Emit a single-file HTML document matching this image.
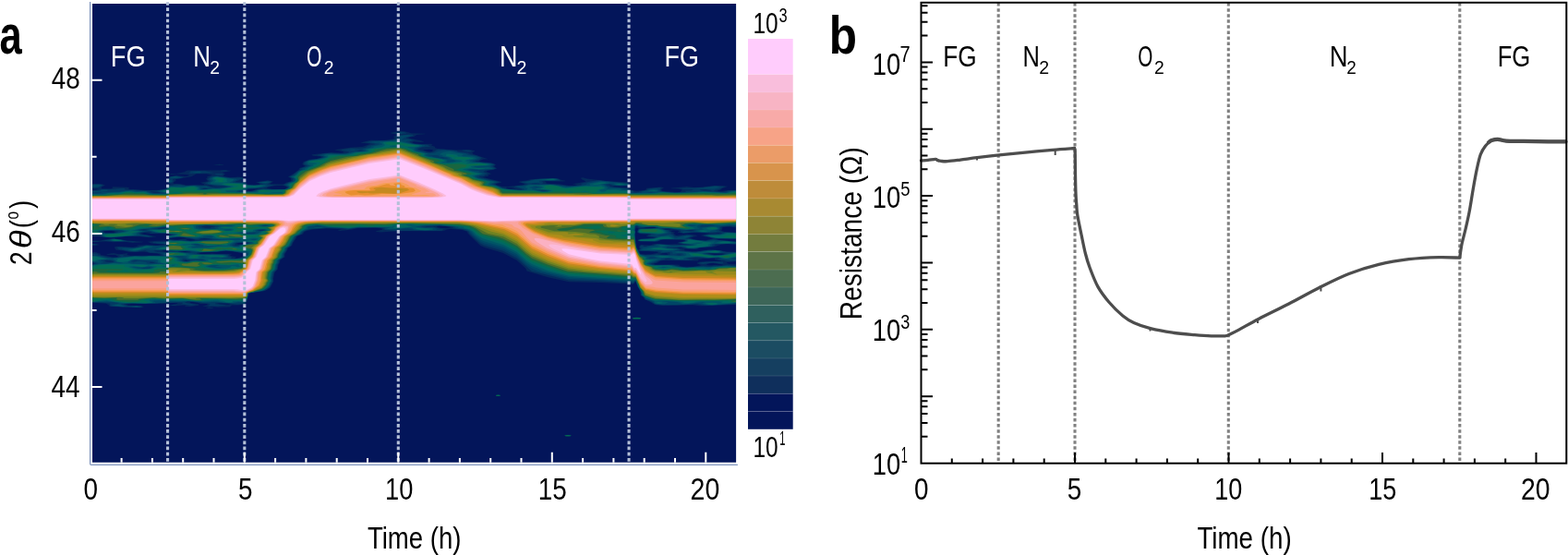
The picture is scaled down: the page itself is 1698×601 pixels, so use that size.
<!DOCTYPE html>
<html><head><meta charset="utf-8"><title>figure</title>
<style>html,body{margin:0;padding:0;background:#fff;}body{width:1698px;height:601px;overflow:hidden;}svg{display:block;}</style>
</head><body>
<svg width="1698" height="601" viewBox="0 0 1698 601" font-family="'Liberation Sans', Arial, sans-serif">
<rect x="0" y="0" width="1698" height="601" fill="#fff"/>
<rect x="100" y="4" width="697.1" height="496.75" fill="#03155A"/>
<g shape-rendering="auto">
<path fill="#05295C" fill-rule="evenodd" d="M152.2 333.3L119.8 331.9 118.2 331.6 117.6 330.2 114.9 328.8 100.2 327.7 100.2 272.7 105.1 273.2 105.1 273.8 108.8 274.8 109.0 275.2 108.6 275.8 109.6 276.2 115.2 276.9 122.2 278.6 126.8 278.4 128.0 277.8 124.8 276.0 116.8 276.1 115.0 275.2 122.8 274.0 128.8 275.3 137.8 274.2 138.9 274.8 137.1 275.8 141.2 276.7 172.8 276.7 174.3 276.2 170.2 274.4 162.8 273.9 156.2 272.7 139.8 273.1 133.8 271.4 125.7 270.8 123.9 268.2 124.6 267.2 127.3 266.8 144.2 267.8 150.5 266.2 147.9 265.2 148.2 265.2 152.2 265.6 158.8 264.9 168.2 265.8 176.7 265.2 178.4 264.8 163.8 263.5 159.7 261.8 169.2 260.7 181.8 260.4 182.2 259.0 192.2 259.7 197.8 258.6 203.3 258.2 200.0 257.2 194.8 256.7 182.2 258.1 181.4 256.8 182.2 255.1 185.3 254.2 184.9 253.8 182.2 253.5 181.8 252.9 172.2 252.6 163.8 253.1 156.8 252.1 153.0 252.8 155.2 253.7 170.0 256.2 161.8 257.3 151.8 256.3 136.2 256.0 120.8 257.6 106.2 255.9 100.2 255.8 100.2 205.7 103.8 205.5 106.1 204.8 100.2 204.4 100.2 199.3 110.2 199.2 113.3 200.2 113.8 200.8 110.4 202.2 109.8 203.8 110.2 204.2 120.3 204.2 122.1 203.8 121.3 202.8 122.8 202.3 138.2 202.8 140.2 203.8 139.0 204.8 139.8 204.9 159.2 206.1 172.1 205.8 179.8 204.2 181.4 202.8 181.9 201.2 184.3 199.8 184.5 199.2 181.8 198.2 181.4 196.2 182.7 192.2 183.9 191.2 190.2 190.1 200.8 190.9 204.5 190.2 205.0 189.8 202.2 189.0 191.2 188.4 185.2 189.1 184.1 188.8 184.8 188.0 190.8 188.0 199.6 186.2 201.9 184.8 203.8 184.5 242.2 184.3 250.1 184.8 249.5 185.2 240.5 186.8 242.9 187.8 243.8 188.8 241.7 190.2 242.0 190.8 249.2 192.3 257.2 191.6 262.9 191.8 264.6 193.2 261.8 196.2 266.7 197.8 268.2 199.8 274.8 200.3 280.3 199.8 281.9 199.2 276.9 197.2 289.8 195.3 295.5 196.2 295.7 196.8 292.8 198.8 292.9 199.2 306.2 199.6 308.2 199.0 309.5 197.8 315.1 196.2 315.5 195.8 314.9 194.2 315.2 193.2 312.5 191.8 312.0 191.2 312.2 190.9 315.1 189.8 320.3 186.2 323.5 183.8 324.2 182.0 329.8 180.2 330.2 179.8 327.2 177.8 328.5 175.2 334.8 172.7 342.8 171.9 348.6 170.2 346.8 169.5 339.1 168.8 337.1 167.8 338.2 167.2 358.8 164.9 368.8 165.5 372.4 165.2 371.1 164.2 362.0 162.2 379.0 159.8 392.8 158.7 401.2 155.8 391.3 154.8 391.0 154.2 401.2 151.7 415.8 152.0 425.8 150.4 427.1 149.2 425.9 148.2 426.2 147.8 430.7 145.8 424.5 144.8 423.1 144.2 422.9 143.8 433.2 141.7 438.3 142.2 445.8 144.3 460.9 144.8 460.2 145.3 451.2 146.0 448.8 147.8 442.9 148.8 442.4 149.2 443.4 149.8 456.8 152.5 459.6 153.8 455.2 154.0 448.8 153.4 446.8 153.8 446.8 154.8 448.1 155.2 455.8 156.0 467.2 155.8 468.7 156.2 466.8 157.2 470.8 158.8 471.4 160.2 474.2 161.0 492.8 162.4 508.2 162.1 514.2 163.2 514.2 163.8 511.3 165.2 512.3 166.8 528.6 172.2 523.2 172.5 518.5 174.8 532.8 176.6 537.2 178.2 535.0 180.2 538.0 182.2 537.8 182.8 534.2 183.9 528.2 184.8 526.6 185.8 532.2 188.2 528.2 189.8 529.0 190.2 528.9 190.8 522.5 191.8 542.8 196.8 543.2 197.2 542.4 197.8 537.8 198.9 536.9 199.2 537.0 199.8 539.8 201.0 544.2 202.0 549.8 202.0 566.2 200.3 568.4 199.2 561.4 197.2 563.3 196.2 569.8 195.6 575.2 194.0 600.2 192.9 604.2 193.2 608.2 194.9 612.5 195.8 611.9 196.2 609.2 196.4 589.6 196.2 591.5 197.2 591.4 198.2 592.9 198.8 605.2 199.3 616.2 201.1 621.8 201.0 625.1 200.2 619.6 199.2 634.1 196.8 634.0 196.2 629.9 194.2 628.7 192.8 631.2 192.3 635.8 193.4 659.2 196.2 679.8 197.3 681.8 199.2 682.2 200.2 680.2 201.7 666.2 201.6 664.4 201.8 664.4 202.2 680.2 203.3 682.0 204.2 683.3 205.8 689.8 206.7 698.1 205.8 699.5 205.2 700.2 203.7 715.8 202.6 719.0 203.2 716.3 205.2 716.4 206.2 717.8 207.0 733.2 208.1 736.8 207.8 738.8 205.8 734.8 204.6 727.4 204.2 726.0 203.8 743.8 202.1 751.2 202.9 758.2 202.8 774.8 200.9 788.6 201.8 781.7 204.2 780.2 205.7 776.7 206.8 777.8 207.0 780.8 207.3 787.8 206.1 796.8 205.8 796.8 246.5 789.2 245.4 783.7 245.8 782.1 246.8 782.4 247.8 781.2 249.8 784.8 251.0 796.8 251.6 796.8 258.6 775.5 258.8 775.8 259.2 778.8 259.9 796.8 261.5 796.8 264.6 787.8 264.3 781.4 264.8 772.8 267.4 758.6 268.2 756.1 268.8 755.5 269.8 753.8 270.0 741.8 269.6 736.2 267.9 733.2 268.2 741.2 269.6 741.6 270.2 740.6 270.8 741.9 271.2 749.2 272.3 754.8 272.2 768.2 270.3 779.2 270.9 787.2 272.6 796.8 272.7 796.8 283.2 786.8 284.2 787.9 285.2 790.4 285.8 796.8 285.8 796.8 330.0 763.8 331.3 757.8 331.2 749.8 330.3 718.8 330.9 710.2 330.3 708.2 329.6 703.8 326.8 697.9 324.2 697.1 322.2 693.7 319.8 693.2 315.2 690.3 310.2 688.2 304.7 686.2 307.8 649.8 305.9 616.2 305.3 593.2 300.3 571.3 293.8 570.2 293.2 569.9 291.8 568.8 290.2 559.8 282.1 544.8 274.1 524.8 268.1 520.2 266.1 506.6 252.8 505.8 250.8 500.2 248.9 487.2 247.9 483.8 248.4 481.5 249.8 478.8 250.3 431.2 250.3 412.2 251.6 407.8 250.9 406.7 250.2 413.8 248.8 413.6 247.8 412.2 247.2 407.2 247.0 387.1 247.2 381.8 248.4 368.8 249.9 366.1 249.8 366.2 249.2 370.0 248.2 353.2 247.5 337.2 248.7 330.0 250.8 327.6 253.8 322.9 255.2 321.5 256.2 321.0 257.8 317.4 262.8 315.9 266.2 311.9 268.8 311.3 270.8 308.4 275.2 308.5 278.2 303.4 281.8 303.1 284.2 301.5 286.8 300.8 291.8 297.6 294.8 296.1 301.2 296.3 304.8 292.9 311.2 288.6 314.2 285.7 315.2 269.2 317.6 267.8 325.1 266.8 327.2 264.8 329.5 258.2 330.4 251.2 330.4 248.8 332.4 236.2 332.7 231.2 332.3 226.2 332.5 221.2 331.8 219.2 331.2 223.8 330.5 225.2 329.8 223.2 329.1 216.8 328.9 213.8 327.8 207.2 327.1 205.6 327.2 207.0 328.2 215.1 329.2 215.5 330.8 205.8 331.9 199.6 331.8 201.5 330.8 199.8 330.6 190.8 331.2 182.2 331.1 181.8 331.7 180.1 331.2 181.8 330.2 182.2 330.7 192.7 328.8 191.3 328.2 186.2 328.1 182.2 328.2 180.2 328.8 168.8 329.1 142.8 328.9 136.1 329.8 139.2 330.7 152.8 331.0 156.1 332.2 152.2 333.3ZM408.2 144.3L404.1 144.2 408.2 144.3ZM467.1 164.2L468.6 163.2 468.7 162.2 464.8 161.7 458.6 162.2 458.8 162.8 464.2 164.3 467.1 164.2ZM242.2 178.8L237.2 179.0 230.5 178.2 237.8 177.8 241.9 178.2 242.2 178.8ZM262.8 183.3L260.8 183.2 262.2 182.7 262.8 183.3ZM221.0 200.2L220.6 199.2 216.8 197.8 225.2 196.2 223.7 194.8 223.1 193.2 224.9 192.2 225.0 191.8 223.5 191.2 229.8 189.8 223.8 188.2 212.8 188.3 207.2 191.3 190.5 194.2 190.0 194.8 190.7 195.8 188.1 197.2 187.6 198.2 187.8 198.8 195.8 199.3 202.2 200.5 221.0 200.2ZM214.8 192.3L213.3 192.2 215.1 192.2 214.8 192.3ZM261.6 196.2L260.1 196.2 261.6 196.2ZM230.8 201.2L228.8 200.7 224.3 200.8 229.8 201.6 230.8 201.2ZM307.9 204.8L310.4 203.8 310.6 202.8 309.1 201.8 305.8 201.0 297.7 201.2 288.7 203.2 290.2 204.0 294.8 204.7 307.9 204.8ZM243.4 202.2L240.7 202.2 243.4 202.2ZM558.7 204.2L554.2 203.2 548.8 202.8 548.0 203.2 550.1 204.2 552.2 204.5 558.7 204.2ZM271.0 206.8L279.6 204.8 270.6 204.8 268.8 205.2 266.7 206.8 271.0 206.8ZM169.0 208.2L166.8 208.2 169.0 208.2ZM484.7 246.8L488.3 246.2 484.8 245.2 479.2 244.8 474.2 245.0 473.2 245.2 473.1 245.8 477.2 246.8 484.7 246.8ZM708.7 247.2L710.2 246.8 708.8 246.1 704.2 245.9 697.6 246.8 697.4 247.2 708.7 247.2ZM691.9 270.2L692.9 269.2 692.1 267.8 692.5 266.2 693.8 265.0 704.2 265.4 707.5 264.2 712.2 263.9 722.8 264.7 731.2 264.3 739.8 264.8 740.3 264.8 732.9 263.2 735.0 262.2 741.2 261.3 741.8 260.8 738.2 259.6 721.2 259.2 715.8 259.8 714.2 261.1 710.8 261.6 691.8 261.3 690.7 260.8 690.9 259.8 693.2 258.7 709.1 257.2 708.6 256.8 701.8 256.4 699.4 255.8 702.8 253.8 694.2 253.6 691.2 252.4 689.7 251.2 691.5 247.2 688.8 246.5 688.0 248.8 688.3 251.2 687.8 253.8 688.5 264.8 690.2 269.3 691.2 270.3 691.9 270.2ZM726.2 248.2L723.8 247.6 718.6 247.8 718.6 248.2 721.2 248.6 726.2 248.2ZM283.8 249.2L282.9 249.2 283.8 249.2ZM763.7 260.2L772.2 258.2 759.0 255.2 759.3 254.8 768.5 252.8 753.2 251.9 740.2 252.8 733.6 251.8 735.3 250.2 733.8 249.8 729.2 249.5 726.6 250.2 727.0 250.8 731.4 251.8 729.2 252.8 732.2 255.0 744.2 253.8 751.2 254.2 755.8 255.2 746.8 257.8 754.6 259.8 763.7 260.2ZM121.4 252.2L125.1 251.2 123.2 250.4 119.8 250.0 113.8 250.2 112.3 250.8 113.1 251.8 114.8 252.2 121.4 252.2ZM780.0 252.8L777.8 252.2 774.7 252.8 780.0 252.8ZM694.2 256.3L693.7 256.2 694.2 256.3ZM149.2 262.8L143.2 263.0 134.8 261.7 122.8 262.2 114.8 261.5 100.2 262.2 100.2 260.6 107.8 260.6 122.2 258.1 138.2 260.6 155.1 261.8 153.8 262.5 149.2 262.8ZM224.5 258.8L221.2 258.4 219.3 258.8 224.5 258.8ZM210.8 260.2L210.8 259.8 204.2 258.8 202.8 258.9 201.6 259.8 205.2 260.4 210.8 260.2ZM263.6 264.2L268.5 263.2 262.4 262.8 256.3 263.8 258.2 264.5 263.6 264.2ZM102.8 265.8L100.2 265.8 100.2 263.8 105.4 264.2 108.1 265.2 102.8 265.8ZM181.9 272.8L181.8 270.8 175.4 271.8 180.2 272.9 181.8 273.1 181.9 272.8ZM256.2 279.8L262.6 277.8 263.7 276.8 263.7 275.8 264.3 274.8 252.8 272.4 245.2 271.7 234.8 272.8 217.8 273.6 215.8 274.2 216.1 274.8 219.2 275.1 229.8 274.6 238.2 275.3 249.9 275.2 251.1 275.8 248.5 276.8 255.6 278.2 255.7 278.8 254.3 279.2 254.3 279.8 256.2 279.8ZM204.2 272.8L199.8 271.9 194.9 272.2 200.2 273.1 204.2 272.8ZM704.9 275.2L712.2 273.8 712.6 273.2 710.8 272.7 699.2 271.9 692.8 271.9 692.1 272.2 692.8 274.2 694.2 275.2 698.8 275.6 704.9 275.2ZM722.3 275.8L723.5 275.2 721.8 274.3 717.2 274.5 715.3 275.2 722.3 275.8ZM781.4 275.8L783.2 275.2 783.2 274.8 766.7 274.8 774.2 276.0 781.4 275.8ZM750.9 288.8L759.2 287.2 754.5 285.2 755.4 284.2 757.8 283.5 779.2 282.8 781.4 282.2 774.7 281.2 773.9 280.8 774.2 280.2 773.8 279.8 761.3 280.2 755.7 281.2 756.8 282.2 755.2 282.4 718.2 282.0 714.0 282.8 713.0 284.2 707.4 285.8 710.2 286.4 731.8 286.4 736.5 286.8 735.3 287.8 739.8 288.8 750.9 288.8ZM203.9 282.2L201.2 281.7 199.3 282.2 201.8 282.6 203.9 282.2ZM120.7 283.2L117.4 283.2 120.7 283.2ZM782.2 287.2L783.1 286.8 772.2 285.0 768.2 285.2 765.1 286.2 765.4 286.8 767.2 287.2 782.2 287.2ZM250.0 329.8L245.9 328.8 236.1 328.8 237.2 329.2 250.0 329.8ZM229.2 334.3L222.2 333.8 226.2 332.8 230.8 333.2 231.6 333.8 229.2 334.3Z"/>
<path fill="#033963" fill-rule="evenodd" d="M439.2 144.8L432.8 145.2 427.0 144.2 428.8 143.5 434.8 142.8 438.3 143.2 440.6 144.2 439.2 144.8ZM153.2 332.8L147.8 333.0 121.1 331.8 119.4 331.2 119.0 329.8 119.4 328.8 118.2 328.4 108.8 327.5 100.2 327.5 100.2 286.4 103.2 285.8 103.3 285.2 100.2 284.6 100.2 274.3 105.8 274.8 106.6 275.2 105.4 276.2 112.1 277.2 115.8 278.4 121.2 279.0 127.7 278.8 131.9 277.8 128.9 276.8 130.2 276.1 133.1 276.2 134.2 276.8 132.5 277.2 135.2 277.8 147.2 276.9 176.8 276.8 177.2 276.8 176.8 276.2 172.2 274.0 161.8 273.4 157.3 271.2 149.2 272.6 142.2 272.6 129.4 270.2 126.7 268.8 127.5 267.8 129.2 267.4 146.0 268.2 158.2 265.6 169.8 266.0 181.8 265.3 181.8 264.6 179.3 264.2 166.0 263.2 165.3 262.2 167.2 261.7 181.8 261.8 182.2 259.4 206.8 260.9 230.0 259.2 225.8 258.2 219.8 257.9 216.8 258.2 216.2 259.4 212.8 259.5 207.8 258.8 204.8 257.7 194.8 256.4 182.2 257.8 181.9 256.8 182.2 255.4 187.6 253.8 182.2 253.3 181.8 252.7 164.0 252.8 161.9 252.2 165.2 251.2 162.2 250.8 153.2 251.8 151.0 252.8 153.2 253.9 159.8 254.7 165.8 256.2 161.2 256.7 150.8 255.8 136.8 255.9 119.8 257.3 112.8 256.8 106.8 255.4 100.2 255.4 100.2 206.4 105.2 206.2 109.8 204.9 119.2 205.0 132.8 203.8 134.8 204.0 135.3 204.2 135.0 205.2 137.2 205.6 145.8 205.4 161.2 206.6 172.2 206.1 179.8 204.8 183.2 201.0 191.2 199.5 195.7 199.8 201.2 200.9 211.2 200.6 224.2 201.3 233.2 203.5 246.6 202.2 243.8 201.5 235.8 201.4 224.8 199.8 221.5 198.2 227.1 196.2 225.3 194.8 225.0 193.8 228.3 191.2 235.2 190.4 248.8 192.6 262.2 192.3 263.3 193.2 262.8 193.7 260.0 194.2 258.8 195.2 255.8 196.2 254.9 197.2 264.8 197.6 266.5 198.2 266.8 199.2 268.2 200.1 276.2 200.5 285.6 199.2 281.0 198.2 278.9 197.2 290.2 195.7 293.2 196.2 293.9 196.8 292.8 198.1 289.1 199.2 293.2 200.1 301.1 200.2 296.2 200.5 284.8 203.7 268.8 204.5 266.2 206.0 261.8 207.2 262.2 207.3 272.0 207.2 277.2 205.6 285.8 204.2 294.8 205.0 308.2 204.9 311.4 203.8 311.9 202.8 310.7 201.8 306.4 200.2 317.1 195.8 316.7 193.2 313.0 191.2 316.7 189.8 322.8 184.9 325.0 183.8 325.3 182.2 332.6 179.8 328.7 177.8 329.8 175.2 334.8 173.2 343.8 172.1 350.3 170.2 349.8 169.6 343.2 168.2 343.7 167.8 350.3 166.2 357.8 165.7 368.2 166.3 375.4 165.8 377.1 165.2 377.8 164.2 369.9 162.8 370.1 162.2 380.8 160.3 388.8 160.8 393.7 160.2 395.9 159.8 398.8 157.8 406.1 156.2 405.8 155.7 395.9 154.2 396.6 153.8 403.2 152.4 421.8 152.1 428.0 150.8 429.2 149.2 428.3 148.2 428.6 147.8 431.2 146.6 444.8 145.5 447.0 145.8 447.6 147.2 440.6 148.8 439.8 149.8 449.5 151.8 443.8 153.2 443.7 153.8 445.2 154.8 449.8 155.9 462.6 156.8 466.3 158.8 457.2 159.6 452.8 161.2 452.8 161.8 455.8 163.1 459.8 163.9 462.8 165.2 465.2 165.3 469.4 164.8 472.2 162.4 474.2 161.7 479.8 161.8 494.8 163.1 495.4 163.2 495.2 163.8 495.8 164.2 506.2 165.6 509.8 167.3 515.8 168.5 521.9 170.8 518.8 173.4 514.6 174.8 515.5 175.2 531.2 176.6 535.3 177.8 535.8 178.5 533.5 179.8 533.5 180.2 537.0 182.2 536.6 182.8 533.2 183.7 525.1 184.8 523.5 186.2 528.8 188.2 524.3 189.8 525.3 190.2 524.2 190.7 519.8 191.1 518.8 191.8 540.0 196.8 540.6 197.2 540.1 197.8 535.9 198.8 535.1 199.2 535.4 199.8 542.6 202.2 544.2 203.4 550.2 204.7 562.8 205.6 565.5 205.2 564.8 204.6 555.8 202.2 559.2 201.3 566.2 200.8 571.8 199.2 565.2 197.8 564.2 197.2 564.8 196.7 571.8 195.9 579.2 194.1 600.2 193.1 604.5 193.8 606.0 194.8 606.5 195.8 589.2 195.7 586.4 196.2 588.4 197.2 587.5 198.2 587.3 198.8 587.8 198.8 601.8 199.7 617.2 201.6 629.8 200.2 630.4 199.8 628.8 199.2 629.5 198.8 640.0 196.2 647.8 195.2 676.2 197.9 680.2 198.5 681.5 200.2 680.2 201.1 673.2 201.3 663.8 200.9 660.2 199.6 656.6 199.8 656.5 200.2 660.2 201.1 660.7 202.2 663.3 202.8 680.2 204.0 682.0 205.8 685.6 206.8 687.0 208.2 688.2 208.4 691.1 208.2 692.8 207.2 700.3 205.8 702.2 204.2 713.8 203.1 715.8 203.2 714.8 205.8 715.5 206.8 717.2 207.4 730.8 208.4 741.8 207.9 743.3 207.8 741.1 206.8 748.2 206.2 750.4 205.8 750.6 205.2 740.2 205.0 735.9 203.8 760.2 203.0 774.2 201.2 785.4 201.8 778.0 205.2 772.3 206.2 775.1 207.2 782.8 207.9 789.5 206.2 796.8 206.1 796.8 245.8 790.8 244.9 781.8 245.5 780.3 246.2 780.8 247.8 778.6 249.8 782.8 251.2 796.8 251.9 796.8 258.5 774.2 258.2 761.5 255.2 761.9 254.8 766.2 254.0 778.8 253.4 782.0 252.8 781.8 252.2 780.2 251.8 762.8 252.1 751.8 251.5 740.2 252.4 736.7 251.8 736.4 251.2 737.4 250.2 736.8 249.8 727.6 247.8 721.8 247.3 716.9 247.8 718.8 248.6 724.7 249.2 724.9 250.8 727.9 251.8 726.4 252.8 726.9 253.2 728.8 253.8 729.5 254.2 729.6 255.2 731.2 255.7 734.2 255.9 744.6 254.2 749.7 254.8 750.8 255.8 744.6 257.8 753.3 259.8 764.8 260.7 771.8 259.3 796.8 261.8 796.8 264.4 787.8 264.1 775.2 264.6 774.4 264.8 774.3 265.8 771.2 267.0 757.2 268.2 752.2 269.6 743.2 269.0 736.8 267.4 724.4 268.2 733.8 269.1 738.2 270.2 734.8 271.2 749.8 272.8 754.8 272.6 765.8 271.0 772.8 270.8 779.7 271.2 786.8 273.0 796.8 273.1 796.8 282.7 786.2 282.8 783.8 281.8 777.8 281.3 776.1 280.8 780.0 279.8 778.8 279.1 764.8 279.6 753.2 278.7 745.8 279.2 744.6 279.8 752.0 280.8 748.5 281.8 719.2 281.4 712.8 282.6 710.4 284.2 705.3 285.2 704.8 285.8 709.8 286.9 729.2 286.8 736.2 288.7 744.2 289.4 761.2 288.1 767.8 288.4 773.8 287.6 781.2 287.8 787.2 286.8 796.8 287.5 796.8 329.6 767.2 330.8 759.8 330.5 755.2 329.4 732.2 330.4 717.2 330.4 709.9 329.8 705.4 326.8 698.7 324.2 697.7 322.2 694.2 319.8 693.5 315.2 690.6 310.2 688.2 304.0 686.2 306.7 649.8 304.6 616.2 303.6 575.8 293.8 559.8 279.8 544.8 271.8 524.2 265.7 520.2 263.8 508.2 252.8 507.7 251.2 506.8 250.5 500.8 248.4 489.5 247.2 490.7 246.2 490.3 245.8 476.2 244.4 468.8 245.1 462.2 245.0 460.6 245.8 468.8 245.5 476.8 247.5 482.9 247.8 479.9 248.2 478.9 249.8 476.8 249.9 425.8 249.9 416.8 249.0 415.5 248.2 415.1 247.2 413.8 246.9 406.2 246.5 386.7 246.8 375.8 248.4 369.2 247.3 353.8 247.1 339.2 248.1 332.8 249.1 328.7 250.8 326.2 253.8 321.0 255.8 316.6 262.8 315.2 265.9 311.0 268.8 310.4 270.8 307.5 275.2 307.6 278.2 302.5 281.8 302.2 284.2 300.6 286.8 299.9 291.8 296.5 295.2 295.2 301.2 295.6 304.8 291.9 311.2 288.2 313.9 285.8 314.9 269.2 317.5 267.8 324.5 266.3 327.2 264.8 328.9 256.8 329.8 247.8 328.5 236.2 328.0 233.2 328.6 232.8 329.2 244.7 330.2 243.7 330.8 235.2 331.4 227.2 331.6 225.0 331.2 227.6 329.8 226.2 328.8 205.2 326.4 202.5 326.8 200.0 327.8 211.9 329.8 211.9 330.2 207.8 330.7 196.8 329.5 195.9 329.2 198.2 328.2 197.3 327.8 192.2 327.5 156.2 329.0 141.8 328.6 135.8 329.1 133.7 329.8 138.8 331.1 151.9 331.2 154.4 332.2 153.2 332.8ZM392.2 163.2L392.2 162.8 389.8 162.4 386.4 163.2 389.2 163.6 392.2 163.2ZM509.2 164.3L506.8 164.4 500.4 163.2 500.5 162.8 505.2 162.5 510.7 163.2 510.7 163.8 509.2 164.3ZM481.0 171.2L480.0 170.8 476.9 170.8 481.0 171.2ZM238.2 178.3L235.1 178.2 238.2 178.3ZM246.2 185.3L241.8 185.6 238.4 185.2 239.3 184.8 243.2 184.6 246.6 184.8 246.2 185.3ZM216.2 187.8L206.8 188.1 203.5 187.2 206.4 186.2 206.5 185.8 205.2 185.2 214.8 184.9 222.8 185.2 232.6 187.2 216.2 187.8ZM239.2 189.8L235.2 189.6 232.5 188.8 233.8 188.1 236.8 187.9 240.2 188.1 241.8 188.8 241.6 189.2 239.2 189.8ZM185.2 198.3L182.8 198.2 181.9 196.2 183.4 193.8 183.4 192.2 184.7 191.2 191.2 190.5 199.3 191.8 196.2 193.0 187.7 193.8 186.9 194.2 188.2 196.2 185.2 198.3ZM635.2 194.8L633.2 194.2 637.3 194.2 635.2 194.8ZM584.0 199.2L583.3 198.8 579.8 198.6 576.4 198.8 575.4 199.2 584.0 199.2ZM107.2 203.3L100.2 203.6 100.2 199.6 108.2 199.5 111.3 200.2 111.5 200.8 107.2 203.3ZM223.8 204.8L225.6 204.2 221.8 203.6 219.1 204.2 220.2 204.8 223.8 204.8ZM769.2 206.8L771.7 206.2 763.8 205.1 758.8 205.2 758.1 205.8 761.2 206.6 769.2 206.8ZM173.5 208.8L173.0 208.2 167.8 207.4 164.2 207.2 162.6 207.8 167.2 209.1 173.5 208.8ZM228.4 247.2L228.1 246.2 232.5 245.2 232.9 244.8 223.8 244.1 218.4 245.2 218.5 245.8 222.8 247.0 228.4 247.2ZM769.5 244.2L763.2 244.2 769.5 244.2ZM725.5 275.8L725.3 274.2 725.7 273.8 724.8 273.3 716.2 273.9 712.2 272.2 693.2 271.5 692.5 270.8 694.0 269.2 692.8 267.8 693.9 265.8 694.8 265.4 697.1 265.8 696.4 266.8 698.8 266.9 701.8 266.2 707.5 265.8 708.5 265.2 708.5 264.8 711.2 264.2 728.8 265.3 747.8 265.2 735.2 263.2 734.9 262.8 736.3 262.2 741.8 261.4 742.6 260.8 741.2 259.8 739.2 259.4 718.8 259.2 714.7 259.8 713.7 260.8 712.2 261.2 708.8 261.5 691.8 261.1 691.0 260.8 691.2 259.8 693.2 259.0 706.8 258.1 710.5 257.2 710.9 256.8 701.7 255.8 701.9 255.2 705.1 254.2 705.1 253.8 703.8 253.3 694.2 252.9 691.2 252.1 690.2 251.2 691.5 248.2 693.8 247.5 706.2 247.6 711.5 246.8 709.8 245.9 705.8 245.6 692.8 246.7 691.1 246.2 690.1 244.8 688.5 244.8 687.7 248.8 688.1 251.2 687.6 254.2 688.5 265.2 689.2 267.9 693.2 275.2 698.8 276.0 703.8 275.9 708.2 275.7 711.8 274.7 712.6 274.8 711.5 275.2 715.8 275.9 721.8 276.2 725.5 275.8ZM175.7 247.8L180.1 247.2 180.5 246.8 178.2 246.3 170.6 247.2 171.2 247.8 175.7 247.8ZM158.1 249.2L158.5 248.8 156.2 248.4 151.7 248.8 150.8 249.2 155.2 249.6 158.1 249.2ZM284.0 249.8L286.9 249.2 283.8 248.7 279.5 249.2 280.8 249.8 284.0 249.8ZM751.1 249.8L751.4 249.2 748.8 249.1 742.0 249.8 747.2 250.2 751.1 249.8ZM124.1 252.2L128.3 250.8 120.2 249.6 110.7 250.2 111.8 251.8 114.2 252.5 124.1 252.2ZM415.8 250.3L410.4 250.2 414.8 249.7 416.2 250.2 415.8 250.3ZM271.8 252.8L270.0 252.8 271.8 252.8ZM147.2 261.8L144.2 262.2 138.8 261.4 122.8 261.6 110.3 260.8 123.2 258.5 132.8 259.7 137.8 261.0 147.2 261.8ZM105.2 261.8L100.2 262.0 100.2 260.9 108.9 261.2 105.2 261.8ZM256.8 265.8L270.3 263.2 268.2 262.6 262.2 262.5 257.2 262.9 254.5 263.8 254.3 265.8 256.8 265.8ZM105.2 265.3L100.2 265.6 100.2 264.0 105.6 264.8 105.2 265.3ZM181.8 273.2L182.2 271.8 181.8 270.6 174.2 271.3 167.8 271.2 166.1 271.8 170.8 272.9 181.8 273.2ZM207.1 273.2L205.4 272.2 201.8 271.7 192.9 272.2 193.4 272.8 201.8 273.5 207.1 273.2ZM255.9 280.2L259.5 279.8 263.2 278.2 265.8 276.2 266.2 274.8 252.8 272.1 244.8 271.5 234.8 272.6 216.8 273.3 213.8 273.8 213.3 274.2 213.3 274.8 214.8 275.1 218.8 275.5 230.2 275.0 247.2 275.5 248.6 275.8 246.9 276.8 247.6 277.2 251.3 278.2 249.8 279.8 255.9 280.2ZM779.4 276.2L783.5 275.8 786.0 274.8 783.2 274.2 768.2 274.1 763.9 274.8 772.8 276.3 779.4 276.2ZM738.1 276.2L737.8 275.7 735.2 275.4 733.0 275.8 732.7 276.2 738.1 276.2ZM726.2 280.8L726.5 280.2 724.2 279.7 719.3 280.2 721.2 281.2 726.2 280.8ZM218.0 281.2L214.2 281.2 218.0 281.2ZM148.3 282.2L147.9 281.8 146.2 281.7 144.1 282.2 148.3 282.2ZM204.6 282.8L205.9 282.2 205.2 281.7 201.2 281.3 198.2 281.6 197.4 282.2 200.8 283.0 204.6 282.8ZM122.7 283.8L123.0 283.2 122.3 282.8 120.2 282.2 115.8 281.8 113.1 282.2 114.1 283.2 116.2 283.9 122.7 283.8ZM781.8 285.8L772.2 284.5 761.2 286.1 756.5 285.2 756.8 284.7 759.2 284.0 772.8 283.1 782.8 283.6 783.6 285.2 781.8 285.8ZM167.3 284.8L167.1 284.2 164.8 283.7 162.2 283.7 161.8 284.2 163.2 285.0 167.3 284.8ZM159.3 290.2L157.7 290.2 159.3 290.2ZM189.8 330.8L185.1 330.8 187.2 330.1 191.9 330.2 189.8 330.8Z"/>
<path fill="#004666" fill-rule="evenodd" d="M435.8 144.3L432.8 144.6 430.3 144.2 433.2 143.6 435.3 143.8 435.8 144.3ZM137.8 331.8L132.8 332.2 121.6 331.2 121.1 330.2 121.8 329.9 128.9 328.8 126.3 327.8 122.2 327.2 100.2 327.3 100.2 286.7 106.9 285.2 100.2 283.6 100.2 276.9 107.8 277.2 112.8 278.8 120.8 279.5 146.8 277.3 176.8 277.2 180.1 276.8 176.3 275.2 176.8 274.4 181.8 274.0 182.2 272.5 208.3 274.2 211.4 275.2 218.2 275.7 230.2 275.4 244.2 275.8 247.7 278.2 245.8 279.0 239.7 279.2 239.9 279.8 254.2 280.5 261.4 279.8 267.4 276.2 267.9 274.8 263.8 273.5 244.8 271.2 234.8 272.4 211.8 273.1 202.8 271.6 189.2 272.1 182.2 271.5 181.8 270.3 163.2 270.8 159.8 269.9 152.8 270.8 148.2 272.2 144.2 272.3 133.9 270.2 131.2 268.8 136.2 268.4 145.8 268.7 158.8 266.0 176.2 266.8 181.8 265.9 181.8 264.1 169.7 263.2 168.4 262.8 181.8 262.4 182.2 259.6 188.8 260.5 196.8 260.5 206.8 261.2 239.3 259.8 221.8 257.6 215.2 257.7 213.6 258.8 211.2 258.8 206.2 257.5 195.2 256.2 182.2 257.6 182.2 255.7 190.0 253.8 182.2 253.1 181.8 252.4 167.8 251.9 167.3 251.2 165.5 250.8 159.8 250.1 159.4 249.8 160.0 249.2 162.2 248.2 160.2 247.9 153.2 248.2 148.8 249.2 158.3 250.2 156.8 250.9 150.9 251.8 149.3 252.8 152.2 254.6 158.2 254.9 162.1 255.8 160.8 256.2 150.8 255.0 118.2 257.1 111.4 256.2 109.4 255.2 108.8 254.2 100.2 254.2 100.2 209.4 108.2 209.1 111.2 208.0 129.8 207.5 136.8 206.3 144.2 205.8 149.2 206.7 158.8 206.9 162.8 208.7 166.8 209.6 176.2 209.5 178.4 209.2 169.2 206.8 179.8 205.2 183.8 201.6 190.8 201.3 193.8 200.4 199.8 201.4 210.2 200.9 217.2 201.7 223.2 201.6 227.3 202.8 225.8 203.3 218.8 203.2 217.6 203.8 217.6 204.8 220.2 205.2 229.2 204.0 237.2 204.0 248.6 202.2 243.8 201.2 227.6 199.8 224.8 198.8 225.3 197.8 228.9 196.2 229.0 195.8 227.0 194.2 227.1 193.2 230.8 191.3 233.8 190.9 256.3 193.8 256.5 194.8 252.0 197.2 252.7 197.8 263.8 197.9 265.1 198.2 266.5 199.8 268.2 200.5 275.2 200.8 285.8 200.0 289.2 200.5 290.3 201.2 282.8 203.1 268.2 204.0 265.2 205.8 259.2 206.8 258.6 207.2 259.1 207.8 273.2 207.6 278.3 205.8 285.2 204.9 295.2 205.3 308.8 205.0 311.8 204.1 312.7 202.8 312.2 201.8 308.8 200.2 312.8 198.0 317.8 196.4 318.7 195.2 318.2 193.2 314.3 191.2 318.2 189.9 323.3 185.2 327.2 183.8 327.4 182.2 334.6 179.8 334.7 179.2 330.5 177.8 330.8 175.8 331.9 174.8 335.2 173.5 344.8 172.3 351.9 170.2 351.8 169.7 347.4 168.2 351.8 166.6 357.8 166.2 372.2 166.7 378.2 165.8 383.2 164.3 393.4 163.8 394.7 163.2 392.9 161.8 393.6 161.2 401.0 159.8 402.1 158.2 409.0 156.8 410.6 156.2 410.8 155.8 401.9 154.2 401.9 153.8 405.2 153.1 421.8 152.6 430.4 151.8 431.3 151.2 430.7 150.2 431.3 149.2 431.0 148.2 432.3 147.2 439.8 146.3 443.8 146.6 445.0 147.2 438.0 148.8 434.6 151.8 439.8 151.2 444.8 151.4 445.8 151.8 439.0 153.2 446.8 155.8 460.2 157.2 460.0 158.2 453.0 159.8 450.5 161.2 452.8 163.4 458.0 164.2 460.8 165.4 466.2 165.9 470.8 165.4 474.8 163.7 480.3 162.8 491.6 163.2 493.8 164.5 504.5 166.2 507.2 168.0 514.1 168.8 519.3 170.8 516.2 173.0 511.8 174.2 512.8 175.2 529.5 176.8 533.9 177.8 534.4 178.2 533.8 178.7 530.9 179.8 531.9 180.8 535.7 182.2 534.2 183.0 521.2 184.1 511.2 183.8 509.8 184.2 519.8 185.2 518.6 186.2 525.0 187.8 525.7 188.2 517.2 190.5 516.1 191.2 517.1 192.2 518.7 192.8 537.7 196.8 538.4 197.2 533.7 198.8 533.0 199.2 533.2 199.8 541.0 202.2 543.8 203.8 548.8 204.8 562.2 206.0 567.1 205.8 567.8 205.2 567.1 204.2 559.4 202.2 560.0 201.8 567.2 201.3 573.2 199.8 598.2 199.9 610.3 201.2 613.8 202.1 623.2 201.7 634.0 200.2 634.9 199.8 635.3 198.8 636.2 198.4 649.8 195.7 680.2 199.1 680.9 199.8 680.2 200.6 674.8 200.9 666.8 200.7 661.2 199.1 653.5 199.8 657.4 201.2 657.9 202.2 659.8 202.8 673.8 204.0 680.2 205.4 683.4 206.8 684.0 207.8 683.5 208.8 684.2 208.9 693.7 208.8 695.4 208.2 694.8 207.8 695.8 207.2 701.8 206.0 704.4 204.8 709.8 204.2 711.8 204.3 714.2 207.2 715.2 207.5 730.8 208.7 752.2 207.9 757.2 207.0 785.2 208.5 787.4 208.2 789.4 206.8 796.8 206.4 796.8 244.7 790.8 244.4 780.0 245.2 778.8 245.8 779.2 248.0 774.4 249.8 777.6 250.8 777.2 250.9 763.8 251.7 751.2 250.8 754.2 249.2 752.8 248.8 738.8 249.1 725.7 247.2 716.9 247.2 715.4 247.8 722.9 249.8 722.7 250.8 725.0 251.8 721.2 253.3 710.8 254.5 704.8 253.0 693.2 252.4 691.2 251.8 690.8 250.8 691.6 248.8 693.2 248.0 708.8 247.6 712.2 247.2 713.1 246.8 712.7 246.2 706.2 245.4 693.8 246.1 692.5 245.8 691.2 244.6 688.8 244.1 687.9 245.2 687.4 249.2 687.9 251.2 687.3 253.8 688.8 267.1 692.1 274.2 693.8 275.9 699.2 276.7 710.8 276.2 728.2 276.3 735.8 277.1 740.7 276.2 738.9 274.2 733.9 274.2 729.2 274.9 728.2 274.6 728.4 273.2 726.8 272.6 718.8 273.3 716.1 272.8 716.2 272.2 717.5 271.8 717.4 271.2 712.8 271.0 707.8 271.8 702.2 271.2 694.2 271.3 693.3 270.8 696.4 268.8 694.4 267.8 699.2 268.1 702.8 266.7 709.2 266.0 711.3 264.8 712.8 264.6 722.8 265.2 727.8 266.2 737.8 265.6 747.3 265.8 750.9 265.2 738.2 263.6 736.2 262.8 743.3 261.2 743.4 260.8 741.2 259.0 717.8 259.1 713.5 259.8 711.8 260.9 708.2 261.3 693.8 261.3 691.5 260.8 691.8 259.8 693.2 259.2 706.8 258.4 712.4 256.8 711.2 256.0 704.3 255.8 704.8 255.2 716.8 255.4 725.8 254.0 730.0 256.2 730.5 256.8 730.2 257.2 732.2 257.8 738.8 255.8 745.8 254.9 747.8 255.3 748.1 256.2 742.4 257.8 742.8 258.7 763.8 261.0 772.8 260.1 796.8 262.1 796.8 264.0 773.8 264.0 771.3 264.8 771.1 266.2 770.0 266.8 757.2 267.9 751.2 269.1 744.2 268.8 739.6 267.2 736.8 266.9 729.2 267.5 723.8 267.1 722.2 267.4 721.4 268.2 723.8 268.9 732.8 269.3 735.5 269.8 735.9 270.2 730.3 271.2 731.2 271.8 752.2 273.2 766.2 271.3 774.8 271.0 779.8 271.6 784.3 273.2 776.8 274.1 765.8 273.9 762.4 274.2 761.9 274.8 773.2 276.6 782.8 276.2 790.2 273.9 796.8 273.5 796.8 278.9 792.1 279.8 792.5 280.2 796.8 280.4 796.8 281.7 790.2 282.1 785.8 281.1 779.8 280.8 779.3 280.8 782.0 279.8 777.8 278.8 766.2 279.4 758.1 278.2 753.2 278.3 743.1 279.2 742.4 279.8 746.8 281.2 743.8 281.5 731.1 281.2 727.2 279.6 722.2 279.3 716.2 280.0 715.7 280.2 715.8 281.2 710.2 282.8 708.2 284.0 703.8 285.0 702.8 285.8 705.4 286.8 709.2 287.2 727.8 287.1 734.2 288.8 743.8 289.7 758.2 288.8 769.8 288.9 787.2 287.5 796.8 288.4 796.8 328.6 771.2 330.5 763.8 330.2 756.2 328.7 745.8 329.6 731.8 329.9 716.8 330.0 710.2 329.3 708.2 328.2 707.1 326.8 699.0 323.8 698.3 322.2 694.3 319.2 694.7 317.8 694.0 315.8 691.2 310.8 688.2 303.4 686.2 305.7 650.2 303.3 616.2 302.0 582.5 293.8 575.8 290.4 570.2 286.9 559.8 277.5 545.2 269.8 524.2 263.5 520.4 261.8 512.1 254.8 507.9 250.2 503.0 248.2 493.6 247.2 492.6 246.8 492.9 245.8 492.2 245.6 475.8 244.0 460.2 244.5 455.7 245.8 460.8 246.5 468.8 246.3 472.8 247.8 472.8 248.8 472.0 249.2 468.2 249.5 449.6 249.2 441.8 247.4 427.2 248.8 419.8 248.6 417.3 248.2 416.8 247.8 417.2 246.7 406.2 246.1 387.2 246.4 376.8 247.8 369.2 246.8 353.8 246.6 336.8 247.8 332.2 248.7 327.6 250.8 324.9 253.8 320.0 255.8 315.7 262.8 314.5 265.8 310.1 268.8 309.5 270.8 306.8 274.8 306.6 278.2 301.5 281.8 301.3 284.2 299.8 286.8 299.2 291.2 295.6 294.8 294.3 301.2 294.8 304.8 293.5 306.2 293.1 308.2 290.9 311.2 285.1 314.8 269.2 317.4 267.4 324.2 264.8 328.1 258.2 327.4 253.2 328.5 232.8 326.9 221.8 327.5 203.8 326.0 196.8 327.0 183.8 326.7 182.2 326.8 181.8 327.5 166.8 328.4 155.2 328.8 143.2 328.3 130.7 329.2 132.3 330.2 137.8 331.8ZM383.2 162.9L380.1 162.8 378.6 161.8 385.5 161.8 385.3 162.2 383.2 162.9ZM484.3 171.8L485.0 171.2 483.8 170.7 476.2 169.8 475.1 169.2 475.4 168.8 474.7 168.2 463.6 167.8 464.0 168.2 467.8 168.7 468.6 169.8 470.0 170.2 479.4 171.8 484.3 171.8ZM216.8 187.3L209.8 187.3 208.6 186.8 211.8 185.9 215.8 185.7 217.8 186.2 218.1 186.8 216.8 187.3ZM195.2 192.8L185.2 193.1 184.2 192.2 185.2 191.5 191.2 191.0 196.8 192.2 195.2 192.8ZM583.8 197.8L572.2 198.2 567.4 197.2 582.8 194.1 600.2 193.3 603.3 193.8 604.3 194.8 600.8 195.4 584.8 195.6 583.8 195.8 583.7 196.2 585.2 197.2 583.8 197.8ZM185.8 196.8L183.8 197.2 182.5 196.2 184.8 194.8 186.3 195.8 186.6 196.2 185.8 196.8ZM290.8 198.3L284.8 198.5 281.3 197.8 281.2 197.2 290.2 196.5 292.1 197.2 290.8 198.3ZM105.8 202.8L100.2 203.0 100.2 201.4 101.6 201.2 100.2 200.9 100.2 200.1 106.2 199.7 109.3 200.2 109.6 200.8 105.8 202.8ZM773.2 204.8L753.2 204.2 754.2 203.8 761.8 203.4 773.2 201.7 776.3 201.8 779.8 202.8 773.2 204.8ZM584.2 202.8L580.2 202.1 577.5 202.8 584.2 202.8ZM109.8 207.8L100.2 208.2 100.2 206.8 108.8 206.8 109.4 205.8 112.0 205.2 116.2 205.6 117.0 206.2 115.8 206.9 109.8 207.8ZM126.8 206.3L124.9 205.8 130.4 205.8 126.8 206.3ZM592.5 206.8L587.8 205.8 583.5 206.2 588.2 207.2 592.5 206.8ZM705.3 208.8L707.5 208.2 701.8 208.2 701.1 208.8 705.3 208.8ZM233.1 247.8L233.8 247.2 231.3 246.2 236.3 245.2 236.8 244.8 222.8 243.7 216.4 244.2 214.6 244.8 214.5 245.2 215.8 246.4 221.9 247.8 233.1 247.8ZM764.6 245.8L774.1 244.2 770.8 243.5 761.2 243.5 759.6 243.8 757.6 245.8 759.8 246.1 764.6 245.8ZM289.3 244.8L290.3 244.2 285.8 244.1 283.3 244.8 289.3 244.8ZM347.2 245.2L347.8 244.8 343.8 244.4 340.7 244.8 340.9 245.2 347.2 245.2ZM173.3 248.2L181.2 247.6 181.8 247.2 181.8 246.2 180.8 245.6 178.2 245.6 163.4 247.8 173.3 248.2ZM286.1 249.8L288.3 249.2 287.8 248.7 283.8 248.4 277.6 249.2 280.2 250.2 286.1 249.8ZM247.3 249.2L246.2 249.2 247.3 249.2ZM123.1 252.8L134.0 250.8 134.3 250.2 130.2 249.6 119.8 249.3 111.2 249.6 108.7 250.2 111.2 252.2 113.8 252.8 123.1 252.8ZM744.2 251.8L740.2 251.9 738.3 251.2 741.2 250.4 747.7 250.8 747.9 251.2 744.2 251.8ZM275.4 253.2L277.5 251.8 265.6 252.2 265.3 252.8 269.2 253.5 275.4 253.2ZM796.8 258.4L775.2 258.0 763.1 255.2 763.7 254.8 767.8 254.2 780.8 253.6 782.8 253.1 784.8 251.8 796.8 252.2 796.8 258.4ZM256.8 258.8L252.7 258.8 256.8 258.8ZM133.2 261.3L123.2 261.3 117.2 260.2 120.8 259.0 123.8 258.8 131.8 259.8 135.1 260.8 133.2 261.3ZM102.2 261.4L100.2 261.7 100.2 261.2 102.6 261.2 102.2 261.4ZM257.0 266.8L260.2 265.4 272.1 263.2 271.6 262.8 267.8 262.3 258.2 262.4 254.8 263.0 251.9 264.2 251.7 266.2 254.2 266.9 257.0 266.8ZM217.2 265.8L214.1 264.2 209.8 264.2 210.2 264.8 217.2 265.8ZM102.2 265.3L100.2 265.3 100.2 264.3 103.6 264.8 102.2 265.3ZM170.2 268.2L170.7 267.8 166.2 268.2 170.2 268.2ZM164.8 272.8L163.6 272.8 164.8 272.8ZM103.8 275.3L100.2 275.7 100.2 274.8 103.8 275.3ZM198.6 278.2L199.7 277.8 190.6 277.8 194.2 278.4 198.6 278.2ZM706.0 280.2L711.8 279.2 709.2 278.3 704.8 278.0 703.2 278.4 702.4 279.8 703.1 280.2 706.0 280.2ZM203.7 283.2L209.8 281.7 218.8 282.3 220.9 281.8 220.2 281.1 217.2 280.6 206.8 281.1 202.6 280.8 201.2 279.8 199.8 279.5 196.0 279.8 198.5 280.8 195.7 281.8 195.8 282.2 199.8 283.3 203.7 283.2ZM117.3 285.2L124.8 283.8 122.8 281.9 119.3 281.2 114.2 281.3 109.5 281.8 109.0 282.2 112.4 283.8 111.9 284.2 109.0 284.8 108.9 285.2 113.8 285.6 117.3 285.2ZM170.4 285.2L170.5 284.8 168.8 283.7 166.8 283.0 148.2 281.2 142.8 281.8 142.2 283.8 144.8 284.2 148.3 283.2 151.8 283.1 157.9 283.8 159.1 284.2 158.5 285.2 160.2 285.6 170.4 285.2ZM776.8 284.0L769.1 283.8 776.8 284.0ZM764.8 284.8L760.8 285.2 759.3 284.8 765.3 284.2 764.8 284.8ZM780.2 284.8L776.8 284.2 777.2 283.9 779.2 284.0 780.3 284.2 780.2 284.8ZM150.8 285.2L147.7 285.2 150.8 285.2ZM161.0 290.8L162.6 290.2 163.2 289.8 163.0 289.2 152.5 290.2 155.8 290.9 161.0 290.8ZM233.2 330.4L231.0 330.2 233.7 330.2 233.2 330.4ZM149.8 332.8L143.8 332.4 141.7 331.8 148.2 331.2 152.5 332.2 149.8 332.8Z"/>
<path fill="#005566" fill-rule="evenodd" d="M440.2 147.3L437.7 147.2 440.2 147.3ZM778.2 329.8L771.2 330.2 764.8 329.8 759.8 328.2 764.3 327.2 761.2 326.9 745.8 329.0 739.8 329.2 733.8 327.3 720.8 326.0 717.2 326.2 724.0 327.2 719.9 329.2 714.8 329.3 710.2 328.7 708.8 327.8 708.8 326.5 699.2 322.5 695.0 319.2 695.1 317.2 691.5 310.8 688.2 302.9 686.2 304.6 681.8 303.9 616.2 300.3 587.0 293.2 583.8 291.2 575.8 288.2 569.8 284.2 559.8 275.2 545.2 267.5 524.8 261.5 520.7 259.8 513.2 254.0 510.5 250.8 505.8 248.2 495.9 246.8 496.8 245.8 476.2 243.5 457.8 244.1 450.2 245.8 459.8 247.0 467.2 247.0 468.8 247.4 469.4 248.2 467.2 249.1 460.2 249.4 449.2 248.5 447.2 247.8 446.2 246.8 444.2 246.5 422.2 248.3 418.9 247.8 422.5 246.2 419.8 246.0 388.2 246.0 377.2 247.3 353.5 245.8 350.9 244.8 343.8 243.9 334.3 245.2 333.4 245.8 333.5 247.2 333.0 247.8 328.8 249.3 326.5 250.8 324.2 253.4 319.0 255.8 314.7 262.8 313.5 265.8 309.2 268.8 308.7 270.8 305.9 274.8 305.2 278.8 300.6 281.8 300.4 284.2 298.8 286.8 298.0 291.8 294.6 294.8 293.3 301.2 294.1 304.2 292.6 306.2 292.3 308.2 290.2 310.9 286.4 313.8 283.9 314.8 269.2 317.3 268.6 318.2 267.8 322.6 264.8 327.4 257.8 326.7 252.8 327.8 249.8 327.9 242.2 327.4 234.8 326.2 220.2 326.7 201.8 325.6 193.2 326.3 182.2 325.7 181.8 326.2 172.8 325.2 165.8 325.8 165.5 326.2 168.1 327.2 168.1 327.8 157.2 328.5 145.8 328.0 134.8 328.2 115.8 326.3 100.2 327.1 100.2 287.1 107.8 285.9 117.2 285.8 122.2 284.9 130.8 285.4 133.4 284.8 126.2 283.5 124.3 281.2 122.6 280.8 122.5 280.2 124.2 279.7 146.8 277.6 153.8 278.0 163.2 277.4 181.8 277.7 181.8 276.4 178.2 275.2 181.8 274.5 182.2 272.9 198.7 273.8 204.5 274.8 204.3 275.2 205.8 275.6 241.8 276.3 243.8 276.7 245.4 277.8 245.2 278.3 242.8 278.7 230.7 278.8 228.7 279.2 228.3 280.2 231.2 280.5 237.2 280.2 253.8 280.8 261.2 280.3 262.9 279.8 268.5 276.2 269.2 274.8 267.4 273.2 268.2 272.8 267.8 272.4 260.8 272.6 244.8 270.9 234.2 272.2 216.8 272.8 205.2 271.4 189.8 271.6 182.2 271.1 181.8 270.1 171.8 270.3 167.2 269.8 174.2 267.9 181.8 266.7 181.8 263.4 178.1 263.2 181.8 263.0 182.2 259.9 187.2 261.1 195.8 260.8 206.8 261.6 220.2 260.7 239.2 260.3 246.8 259.4 257.2 260.3 260.9 259.8 259.8 258.3 257.8 258.1 239.2 258.7 231.6 258.2 229.6 257.8 229.5 257.2 230.9 256.8 229.3 255.2 226.2 254.8 219.6 255.8 220.2 256.5 225.0 256.8 224.2 256.9 210.2 257.4 192.2 256.0 182.2 257.3 182.2 256.0 192.0 253.8 189.8 253.2 182.2 252.8 181.8 252.1 170.4 251.8 161.9 249.8 161.9 249.2 164.2 248.7 172.8 248.7 181.8 247.9 182.1 245.8 180.8 245.1 147.9 248.8 146.6 249.2 153.9 250.2 154.6 250.8 148.9 251.8 147.4 252.8 148.6 254.2 144.2 255.1 117.8 256.9 112.7 256.2 111.5 255.8 111.3 254.2 110.2 253.8 100.2 253.7 100.2 209.9 110.2 210.1 122.2 208.3 129.8 208.0 142.2 206.4 146.8 207.8 157.6 207.2 162.3 209.2 165.8 210.0 177.8 210.1 180.2 209.9 181.0 209.2 179.8 208.5 173.2 207.2 173.0 206.8 179.8 205.6 182.2 203.5 185.2 202.0 197.2 202.8 202.6 201.8 210.9 201.2 215.8 202.5 216.3 205.2 219.8 205.5 230.2 204.5 238.2 204.4 248.8 202.9 250.6 202.2 248.2 201.5 238.8 200.1 228.2 199.2 227.8 198.8 228.2 197.8 231.2 195.8 228.8 193.2 231.6 191.8 234.2 191.3 253.8 194.2 251.5 196.2 248.2 197.8 262.2 198.3 268.2 200.8 275.8 201.1 284.2 200.4 287.2 200.8 287.8 201.2 277.6 203.2 268.2 203.5 264.2 205.4 257.9 206.2 255.8 207.2 257.8 208.1 275.2 207.9 277.2 207.5 278.4 206.2 279.9 205.8 284.2 205.3 308.2 205.3 312.2 204.3 313.3 203.2 313.2 201.8 310.9 200.2 311.4 199.8 313.8 198.2 318.2 196.9 319.8 195.2 319.3 193.2 316.0 191.2 319.2 190.2 324.4 185.2 329.6 183.8 330.2 183.2 330.2 182.2 337.4 179.2 332.9 177.8 333.0 176.8 332.2 175.8 333.1 174.8 337.2 173.6 346.2 172.5 353.6 170.2 353.7 169.8 350.6 168.2 354.2 166.8 373.8 167.2 384.2 164.8 395.8 163.9 397.0 163.2 395.7 161.8 396.6 161.2 403.8 160.0 404.6 159.8 404.7 158.8 405.2 158.5 413.8 156.8 413.8 155.8 410.4 153.8 429.8 152.8 433.2 152.9 446.8 156.1 456.7 157.2 457.2 157.8 456.7 158.2 449.9 159.8 448.4 161.2 450.5 163.8 462.8 166.2 463.2 166.8 460.8 167.6 460.6 168.2 464.8 169.8 483.0 172.8 484.5 174.2 483.2 175.2 483.5 175.8 487.5 175.8 493.8 174.8 491.5 173.2 486.6 172.2 487.2 171.2 486.2 170.6 479.1 169.2 479.6 168.2 476.4 167.2 476.3 166.8 480.1 164.8 487.8 163.8 491.8 165.1 501.2 166.8 501.6 167.8 499.5 168.8 501.8 169.3 511.8 169.5 516.1 171.2 514.8 172.3 508.1 173.8 508.2 174.2 511.2 175.5 532.0 177.8 532.4 178.2 527.8 179.6 515.8 180.0 513.7 180.2 513.3 180.8 517.8 181.4 528.2 180.9 533.7 182.2 532.9 182.8 519.8 183.6 509.2 183.1 505.6 183.8 508.2 184.8 521.9 187.8 522.8 188.2 514.3 190.2 514.1 191.2 517.2 193.0 535.1 196.8 535.7 197.2 531.8 198.4 530.3 199.8 530.8 200.2 538.2 201.8 542.3 203.8 548.8 205.1 562.8 206.3 569.8 205.9 570.4 205.8 571.7 203.8 568.2 202.8 571.5 200.8 574.2 200.3 598.8 200.2 613.2 202.9 639.5 200.8 638.3 199.2 639.1 198.8 650.8 196.5 660.0 197.8 660.5 198.2 650.8 199.8 655.0 201.2 655.6 202.2 658.5 203.2 656.2 204.8 671.8 204.2 673.1 204.8 672.5 205.2 672.9 205.8 681.2 206.3 682.7 207.2 681.9 208.8 683.8 209.3 705.2 209.2 714.2 208.1 731.2 208.9 741.8 208.8 754.2 208.4 761.2 207.5 785.8 208.9 788.8 208.6 792.2 206.9 796.8 206.7 796.8 243.6 789.2 243.1 781.6 244.2 771.8 243.2 760.2 243.1 755.2 243.7 747.2 243.2 744.9 243.8 745.0 244.2 749.2 244.9 755.2 243.9 755.7 244.8 754.3 245.8 757.5 247.2 757.3 247.8 742.8 248.7 725.2 247.0 716.2 246.8 708.2 245.2 695.2 245.5 689.2 243.8 688.2 244.0 687.4 245.2 686.9 249.2 687.7 251.2 687.0 254.2 688.4 265.8 689.2 269.1 692.2 275.1 693.8 276.2 700.6 278.2 700.9 278.8 700.1 280.2 700.8 280.5 711.2 280.7 712.6 281.2 702.2 284.8 701.1 285.8 701.8 286.2 708.8 287.5 725.9 287.2 732.8 289.1 743.2 290.0 756.8 289.3 769.2 289.4 786.2 288.3 796.8 288.8 796.8 328.0 778.2 329.8ZM193.2 192.3L186.7 192.2 187.1 191.8 189.8 191.5 193.2 192.3ZM602.2 194.8L596.8 195.2 582.2 194.8 598.8 193.5 602.9 194.2 602.2 194.8ZM579.8 196.8L577.0 196.8 579.8 196.8ZM287.8 198.3L283.6 197.8 287.2 197.2 290.2 197.8 287.8 198.3ZM679.2 200.3L669.2 200.5 666.9 200.2 665.1 199.2 665.3 198.8 666.8 198.5 672.8 198.5 680.0 199.8 679.2 200.3ZM594.0 207.2L595.2 206.8 591.2 205.7 581.8 205.1 580.0 204.2 587.4 202.8 586.6 202.2 578.8 201.5 573.2 202.8 573.1 203.2 577.1 204.2 575.9 204.8 576.0 205.2 579.2 205.6 582.5 206.8 588.2 207.6 594.0 207.2ZM224.2 202.8L220.5 202.2 224.4 202.2 224.2 202.8ZM711.2 207.4L701.1 207.2 703.8 206.1 707.8 205.4 711.9 206.2 712.2 206.8 711.2 207.4ZM227.6 248.2L237.2 247.8 235.3 246.2 239.8 245.1 249.8 245.2 252.6 244.2 248.8 243.9 238.8 244.3 223.2 243.4 213.8 244.0 212.1 244.2 211.9 244.8 212.4 247.2 219.8 248.4 227.6 248.2ZM286.8 245.2L292.4 244.2 291.1 243.8 286.8 243.7 281.1 244.8 286.8 245.2ZM766.2 251.3L759.2 251.3 754.6 250.2 756.2 249.4 762.4 248.2 759.8 247.2 760.5 246.8 769.2 245.5 775.8 245.5 778.3 247.2 777.2 248.3 769.6 249.8 769.2 250.8 766.2 251.3ZM348.2 246.8L339.7 246.8 340.2 246.2 343.2 245.8 350.2 246.2 348.2 246.8ZM712.2 253.8L707.1 252.8 693.2 252.1 691.8 251.6 691.3 250.8 692.2 248.8 693.8 248.2 712.8 247.6 720.9 249.8 720.5 250.8 722.5 251.8 718.2 253.0 712.2 253.8ZM247.2 249.8L250.2 249.4 250.8 248.8 248.2 248.2 242.6 248.8 242.6 249.2 243.2 249.4 247.2 249.8ZM275.7 253.8L278.3 253.2 280.9 251.8 281.5 250.8 288.2 249.6 289.5 249.2 289.3 248.8 285.2 248.2 279.8 248.4 275.9 249.2 277.0 250.2 277.0 250.8 276.2 250.9 257.3 252.2 268.2 253.8 275.7 253.8ZM118.0 253.2L125.7 252.8 135.2 251.1 136.9 250.2 132.2 249.2 125.8 249.0 111.2 249.3 106.9 250.2 111.8 252.9 118.0 253.2ZM796.8 258.3L776.2 257.8 764.6 255.2 768.2 254.5 779.8 254.2 786.8 252.1 796.8 252.5 796.8 258.3ZM159.2 255.8L157.2 255.8 157.8 255.4 159.2 255.8ZM710.8 260.8L693.8 261.1 692.0 260.8 691.9 260.2 693.8 259.4 707.8 258.6 714.8 256.4 723.8 255.3 730.3 258.2 729.7 258.8 715.8 259.1 712.3 259.8 710.8 260.8ZM743.8 256.8L740.8 256.9 740.2 256.2 744.2 255.7 746.0 256.2 743.8 256.8ZM738.8 258.3L736.0 258.2 738.2 257.9 738.8 258.3ZM275.8 260.2L277.3 259.8 277.4 258.8 273.8 258.7 271.4 259.8 275.8 260.2ZM133.2 260.8L124.8 261.1 119.4 260.2 121.4 259.2 124.2 259.1 130.5 259.8 132.8 260.2 133.2 260.8ZM750.8 268.8L744.2 268.5 740.8 266.9 736.0 266.2 749.2 265.9 752.8 265.2 750.8 264.4 739.8 263.5 737.3 262.8 744.4 261.2 743.7 259.8 745.2 259.3 764.2 261.5 775.7 261.2 772.4 262.2 774.2 262.7 776.9 262.2 778.2 261.4 781.2 261.2 787.8 261.3 796.8 262.4 796.8 263.5 781.2 263.9 773.8 263.4 769.0 264.8 769.2 266.2 767.6 266.8 750.8 268.8ZM263.7 260.2L261.5 260.2 263.7 260.2ZM258.6 267.2L259.3 266.2 260.8 265.7 273.9 263.2 273.2 262.7 269.2 262.1 256.2 261.6 249.2 264.2 249.6 265.2 248.7 266.2 253.8 267.3 258.6 267.2ZM758.2 263.2L756.8 262.7 753.8 263.2 758.2 263.2ZM223.4 268.2L232.8 266.6 240.7 266.2 239.9 265.8 236.2 265.6 231.2 266.6 221.2 266.8 220.2 266.7 220.4 265.8 219.8 265.2 214.8 263.9 210.2 263.7 206.9 264.2 207.2 264.8 212.5 266.2 207.0 267.8 207.9 268.2 223.4 268.2ZM199.4 265.2L197.7 265.2 199.4 265.2ZM720.2 266.8L716.2 267.2 711.7 266.2 714.8 265.1 722.9 265.8 723.0 266.2 720.2 266.8ZM146.2 271.8L142.2 271.6 138.5 270.2 149.2 268.5 157.8 266.5 166.1 266.8 163.8 267.9 157.6 268.8 155.3 269.8 146.2 271.8ZM729.8 270.8L722.2 271.1 702.8 270.4 694.6 270.8 704.2 268.4 716.2 267.4 722.2 269.1 733.3 269.8 733.4 270.2 729.8 270.8ZM740.2 280.8L733.2 280.9 727.2 278.9 715.2 279.2 707.5 277.2 713.8 276.7 736.2 277.5 741.2 277.2 743.6 276.2 742.5 274.2 741.4 273.8 732.2 273.6 730.5 272.8 733.2 272.3 753.8 273.7 766.0 271.8 774.2 271.2 778.8 271.8 781.3 273.2 775.8 273.9 766.2 273.5 759.5 274.2 763.2 275.6 774.2 277.0 784.2 276.2 792.8 274.2 796.8 273.9 796.8 278.6 788.2 280.0 784.8 280.0 778.8 278.6 766.8 279.1 755.2 277.8 741.2 279.0 739.9 279.8 740.6 280.2 740.2 280.8ZM107.8 283.8L100.2 283.1 100.2 277.2 107.2 277.7 109.8 278.8 118.7 280.2 106.4 281.8 106.3 282.2 107.9 283.2 107.8 283.8ZM202.3 283.8L210.8 282.4 221.2 282.8 222.9 282.8 223.1 282.2 221.8 280.8 218.8 280.3 204.8 280.2 201.4 278.8 203.5 277.8 201.4 277.2 191.8 277.1 187.5 277.8 192.2 279.0 195.3 280.8 193.6 281.8 193.8 282.2 198.8 283.5 202.3 283.8ZM222.9 278.2L219.2 277.7 216.9 278.2 220.2 278.7 222.9 278.2ZM162.5 286.2L177.5 285.8 177.0 285.2 171.7 284.2 171.0 283.8 171.3 282.2 170.9 281.8 167.8 281.2 159.8 281.7 145.2 280.9 141.8 281.7 140.8 282.8 138.2 283.8 138.4 284.2 143.1 285.8 162.5 286.2ZM155.2 284.3L153.2 284.2 155.2 284.3ZM239.0 290.2L240.5 289.8 233.3 288.8 233.3 288.2 237.9 287.2 236.2 287.0 228.7 287.2 224.7 288.2 226.8 289.0 239.0 290.2ZM181.8 288.8L181.8 288.0 179.5 288.8 181.8 288.8ZM160.1 291.2L163.2 290.8 166.6 289.2 161.8 288.5 153.2 289.5 145.2 288.8 143.0 289.2 150.8 291.1 160.1 291.2ZM720.0 289.8L721.4 289.2 717.1 289.2 716.8 289.8 720.0 289.8ZM133.8 331.8L123.7 330.8 124.2 330.2 128.2 330.1 133.8 331.2 133.8 331.8ZM149.2 332.3L146.5 332.2 145.6 331.8 148.9 331.8 149.2 332.3Z"/>
<path fill="#006663" fill-rule="evenodd" d="M789.2 328.3L782.4 328.2 780.7 327.8 783.1 326.8 778.2 326.2 758.2 326.3 753.9 326.8 751.2 327.8 744.8 328.3 741.2 327.9 737.7 326.8 726.7 325.8 718.8 325.4 709.8 325.8 699.2 321.9 695.7 319.2 695.9 317.8 691.8 310.8 688.2 302.3 686.2 303.6 682.2 302.7 616.2 298.7 593.7 293.2 575.8 286.0 569.8 282.0 559.8 273.0 545.2 265.3 522.2 258.1 515.8 254.2 512.4 250.8 508.4 248.2 502.7 247.2 501.7 246.8 502.6 246.2 502.2 245.7 476.2 243.1 450.8 244.0 444.2 243.1 440.2 243.2 439.5 243.8 446.2 245.2 444.9 245.8 428.2 247.3 426.8 247.2 425.6 245.8 431.2 244.8 427.2 244.2 425.2 244.8 425.3 245.2 424.8 245.4 413.2 245.7 389.2 245.6 377.8 246.8 356.8 245.5 343.8 243.5 338.1 243.8 332.8 245.0 331.6 245.8 331.4 247.2 325.8 250.4 323.2 253.2 318.0 255.8 312.4 265.8 308.2 268.8 307.8 270.8 304.9 274.8 304.1 278.8 299.6 281.8 299.4 284.2 297.9 286.8 297.3 291.2 293.6 294.8 292.4 301.2 293.3 304.2 291.7 306.2 291.3 308.2 289.3 310.8 287.7 312.2 283.8 314.4 269.2 317.2 268.4 318.2 267.8 322.2 264.8 325.9 252.8 326.0 251.7 326.2 252.1 326.8 251.5 327.2 248.2 327.5 244.5 327.2 242.8 326.2 235.2 324.7 216.2 326.1 167.8 324.2 161.3 324.8 162.5 326.2 164.9 327.2 164.6 327.8 157.8 328.2 135.8 327.9 121.1 326.2 115.8 325.1 100.2 326.8 100.2 287.7 107.8 286.4 123.2 285.5 155.2 286.5 160.8 287.2 167.8 286.2 173.2 286.0 180.8 286.6 181.4 287.2 180.4 287.8 175.1 288.8 181.8 289.5 181.8 285.3 174.3 284.2 173.4 283.8 174.2 282.8 173.9 282.2 170.8 281.1 145.8 280.5 141.5 281.2 138.8 283.1 132.8 283.8 127.8 283.5 126.4 282.8 126.3 282.2 127.3 281.2 127.1 280.2 128.2 279.9 145.2 278.0 154.2 278.5 161.8 277.6 181.8 278.1 182.2 277.2 181.8 275.8 180.4 275.2 181.8 275.0 182.2 273.3 195.2 273.7 201.5 274.8 201.3 275.8 202.0 276.2 201.2 276.5 188.8 276.9 185.2 277.2 184.7 277.8 190.7 279.2 192.6 280.8 191.2 281.8 191.8 282.6 200.8 284.4 211.8 282.8 225.3 283.2 226.3 282.8 224.6 281.8 226.2 281.0 236.8 281.5 262.2 280.5 264.2 279.8 269.5 276.2 270.2 274.8 269.9 273.2 270.7 272.2 270.5 271.8 260.8 272.1 243.2 270.6 234.2 272.0 217.8 272.5 206.8 271.0 191.2 271.3 182.2 270.8 181.8 269.9 173.2 269.8 172.0 269.2 175.8 268.1 181.8 267.4 182.2 260.4 185.8 261.6 195.8 261.0 206.8 262.0 219.2 260.9 250.8 260.1 253.9 260.8 250.8 263.1 246.5 264.2 246.9 265.2 245.2 265.7 236.2 265.3 224.8 266.1 223.6 265.8 224.2 265.2 212.2 263.4 197.8 264.4 193.6 265.2 199.8 265.8 205.8 265.3 209.1 265.8 204.2 266.9 203.1 267.8 208.8 269.1 226.2 268.5 238.2 266.9 248.2 267.0 258.8 268.2 260.2 267.8 260.6 266.2 261.9 265.8 274.7 263.8 275.5 263.2 273.8 262.3 266.9 261.2 269.8 260.6 277.2 260.5 278.9 259.8 279.9 258.2 278.2 257.7 273.8 257.7 265.8 259.1 262.8 258.2 258.8 257.7 237.2 258.2 234.2 257.8 230.8 254.9 227.2 254.5 219.5 254.8 215.8 256.5 211.2 256.9 189.2 255.7 188.4 255.2 193.5 253.8 190.8 253.0 182.2 252.6 181.8 251.7 172.8 251.7 164.4 249.8 165.2 249.2 181.8 248.4 184.1 246.2 181.8 244.9 179.8 244.7 152.8 247.4 141.8 249.7 126.8 248.6 109.2 249.1 104.3 250.2 107.5 251.2 108.8 252.8 100.2 253.3 100.2 210.8 111.8 210.8 116.8 209.5 123.2 209.0 128.5 209.2 131.7 208.2 139.2 207.3 147.2 208.3 155.8 207.7 161.8 209.8 165.8 210.4 179.8 210.4 181.2 210.0 181.9 209.2 179.8 207.9 175.9 207.2 176.1 206.8 179.8 206.1 182.5 203.8 185.2 202.8 198.2 203.3 205.8 201.8 210.2 201.7 214.2 203.2 214.6 204.2 213.4 205.2 213.8 205.6 217.8 205.9 230.8 204.8 238.8 204.8 253.1 202.2 251.8 201.5 242.7 200.2 239.4 199.2 243.2 198.3 261.8 199.0 268.2 201.3 277.8 201.6 282.8 200.8 285.0 201.2 276.2 202.9 268.2 202.8 261.8 205.4 253.2 206.2 244.2 206.2 245.1 207.2 244.3 207.8 245.8 208.1 260.2 208.7 278.8 208.5 279.8 208.2 279.8 206.2 282.2 205.7 295.8 205.9 308.8 205.4 311.9 204.8 313.6 203.8 314.2 202.2 312.9 200.2 313.2 199.8 315.2 198.2 318.7 197.2 320.0 196.2 320.8 194.8 320.6 193.8 318.4 191.8 318.6 191.2 321.1 189.8 323.6 186.8 326.2 185.0 331.7 183.8 334.3 181.2 339.2 179.8 339.7 179.2 338.8 178.2 339.2 178.0 343.1 177.2 342.2 176.7 334.8 176.1 333.8 175.2 334.5 174.8 348.8 172.6 355.4 170.2 354.8 168.6 356.8 167.8 376.2 167.7 379.4 167.2 385.2 165.2 397.9 164.2 399.5 163.2 398.2 161.7 413.5 159.2 417.0 157.2 414.9 154.8 415.1 154.2 416.8 153.7 421.8 153.4 432.8 153.7 444.8 156.2 453.8 157.5 454.4 157.8 454.0 158.2 451.8 158.7 442.2 159.3 441.1 159.8 445.2 160.7 447.4 162.2 448.3 163.8 460.0 166.2 460.2 166.8 458.7 168.2 462.4 169.8 477.8 172.2 481.7 173.8 482.1 174.2 481.2 174.7 477.5 175.8 478.5 176.2 485.2 176.8 498.2 175.3 501.3 174.2 490.0 172.2 488.2 170.3 482.7 168.8 483.8 167.8 482.6 167.2 482.8 166.8 486.2 166.6 494.8 167.5 495.5 167.8 495.4 168.8 496.8 169.4 508.2 170.2 512.6 171.2 512.8 171.8 507.2 172.8 503.3 174.2 508.7 175.8 504.8 176.8 505.2 176.9 519.8 176.6 529.4 177.8 529.7 178.2 526.8 179.1 512.8 179.6 510.2 180.2 510.0 180.8 511.2 181.6 513.2 181.8 525.6 182.2 524.2 182.8 518.8 183.2 509.2 182.3 504.2 182.8 500.9 183.8 519.9 188.2 511.0 190.2 515.5 193.2 531.2 196.8 528.2 199.8 528.3 200.2 536.2 201.6 541.8 204.0 547.8 205.3 562.8 206.5 577.2 206.3 586.8 207.9 592.8 207.8 597.4 206.8 593.8 205.5 586.0 204.8 585.4 204.2 588.5 203.2 589.2 202.4 583.8 201.2 595.2 200.3 601.0 200.8 606.8 201.9 609.2 203.1 612.8 203.4 633.8 201.6 645.8 201.9 650.8 201.2 655.5 203.2 653.8 204.4 648.3 205.8 651.2 207.8 654.8 207.6 657.8 205.8 666.8 205.4 672.2 206.6 680.8 206.6 681.7 207.2 680.9 208.8 684.2 209.7 707.8 209.4 716.8 208.4 731.2 209.2 742.2 209.1 761.8 208.1 786.2 209.2 796.8 207.2 796.8 243.0 789.8 242.5 781.2 243.1 747.2 242.8 744.2 243.2 742.8 243.8 742.7 244.2 750.7 246.2 752.4 247.2 752.1 247.8 743.2 248.4 734.2 247.4 717.8 246.5 709.2 245.0 697.2 244.9 688.8 243.4 687.0 244.8 687.1 246.8 686.2 248.6 683.2 248.8 682.9 249.2 686.2 249.3 687.3 250.8 686.5 253.8 688.6 267.8 692.2 275.6 693.8 276.6 698.7 278.2 699.3 278.8 698.5 280.2 699.1 280.8 707.4 281.8 704.1 282.8 700.2 284.9 699.6 285.8 700.8 286.5 707.2 287.7 723.8 287.5 728.1 288.2 727.8 289.1 718.8 288.4 711.7 289.8 718.2 290.6 728.2 289.3 742.8 290.3 755.2 289.9 768.2 291.3 770.2 291.2 770.7 290.8 768.6 290.2 771.1 289.8 784.2 288.8 796.8 289.1 796.8 327.7 789.2 328.3ZM432.1 158.8L435.0 158.2 427.8 157.6 421.8 158.2 422.3 158.8 424.8 158.9 432.1 158.8ZM242.8 197.8L232.2 197.4 231.9 197.2 233.6 195.8 233.6 194.8 230.4 193.2 232.8 192.1 235.8 191.8 241.2 192.5 246.0 193.8 245.3 195.8 246.3 196.2 246.3 196.8 242.8 197.8ZM599.8 194.8L592.4 194.8 590.7 194.2 598.2 193.7 601.4 194.2 599.8 194.8ZM646.2 199.8L643.2 199.8 641.9 199.2 651.8 197.4 656.0 197.8 656.1 198.2 646.2 199.8ZM677.2 199.8L670.8 200.2 667.8 199.8 667.4 199.2 671.8 198.9 677.2 199.8ZM709.2 206.8L705.6 206.8 707.8 206.2 709.1 206.2 709.6 206.8 709.2 206.8ZM305.6 209.2L305.8 208.3 304.8 208.0 294.2 208.5 291.4 209.2 305.6 209.2ZM251.1 249.8L252.4 249.2 252.9 248.2 250.2 247.5 242.2 247.6 238.3 246.2 242.2 245.4 251.8 245.6 255.5 244.2 251.8 243.6 236.8 243.9 222.8 243.2 211.4 243.8 209.1 244.2 209.0 244.8 210.2 245.8 210.2 247.2 215.8 249.0 234.8 248.5 238.2 248.7 244.2 250.0 251.1 249.8ZM290.1 245.2L294.0 244.2 292.8 243.6 287.2 243.3 281.2 244.0 278.7 244.8 284.2 245.5 290.1 245.2ZM771.2 248.8L767.8 248.7 764.9 247.2 765.3 246.8 772.2 245.9 775.2 246.2 777.1 247.2 775.8 248.2 771.2 248.8ZM118.2 247.2L118.3 246.8 117.8 246.6 115.6 246.8 115.9 247.2 118.2 247.2ZM464.2 248.8L455.2 248.8 450.8 247.9 449.8 247.2 453.2 246.9 464.8 247.7 465.9 248.2 464.2 248.8ZM279.4 253.8L282.8 252.5 283.4 250.8 289.2 249.7 290.4 249.2 290.4 248.8 286.2 247.9 280.2 248.0 275.1 248.8 273.9 249.2 274.2 250.2 272.8 250.7 266.2 250.7 253.1 252.2 267.8 254.2 279.4 253.8ZM715.2 252.8L693.8 251.8 692.2 251.4 691.8 250.8 692.8 248.8 694.2 248.4 711.8 247.9 718.7 249.8 718.2 250.2 718.5 250.8 720.4 251.8 715.2 252.8ZM765.8 250.8L761.2 251.1 757.0 250.2 758.2 249.7 762.2 249.6 765.2 250.1 765.8 250.8ZM124.8 256.3L115.8 256.5 113.9 256.2 112.7 255.2 113.2 254.2 114.2 253.8 127.2 252.9 136.2 251.6 140.8 249.8 150.1 250.2 151.0 250.8 143.2 252.8 142.6 253.2 145.2 253.7 145.5 254.2 143.5 254.8 124.8 256.3ZM242.6 253.2L243.2 252.8 239.6 252.8 238.7 253.2 242.6 253.2ZM796.8 258.0L777.4 257.8 769.2 256.2 766.5 255.2 779.2 254.9 783.2 254.1 787.8 252.5 796.8 252.7 796.8 258.0ZM185.2 256.8L182.2 256.8 183.2 256.2 186.8 256.2 185.2 256.8ZM709.2 260.8L693.8 260.9 692.7 260.8 692.6 260.2 694.2 259.6 708.2 259.0 716.2 256.6 723.2 256.6 726.2 257.2 728.3 258.2 713.8 259.1 711.2 259.5 709.2 260.8ZM131.8 260.8L125.2 260.9 121.1 260.2 121.8 259.7 124.8 259.4 131.2 260.2 131.8 260.8ZM751.8 268.3L745.8 268.4 742.9 267.2 743.0 266.8 744.2 266.5 753.2 265.8 754.6 265.2 754.2 264.8 754.7 264.2 760.2 263.4 761.2 262.6 754.2 262.5 747.8 263.7 740.2 263.3 738.5 262.8 745.2 261.4 744.8 260.2 745.2 259.8 747.2 259.6 759.8 261.2 761.8 262.0 768.8 262.4 770.8 263.2 766.7 264.8 767.2 266.2 751.8 268.3ZM787.8 263.3L778.8 263.2 778.9 262.8 782.8 261.6 788.8 261.7 794.2 262.8 787.8 263.3ZM719.2 266.3L715.2 266.3 715.0 265.8 720.0 265.8 719.2 266.3ZM155.8 268.3L153.7 268.2 155.8 267.2 159.2 266.8 161.5 266.8 162.3 267.2 155.8 268.3ZM729.8 270.3L721.2 270.7 707.8 270.1 704.4 269.2 707.8 268.4 715.2 268.1 721.8 269.4 729.0 269.8 729.8 270.3ZM149.8 270.3L144.8 270.7 143.0 270.2 147.0 269.2 153.0 268.8 152.5 269.8 149.8 270.3ZM778.2 273.3L774.2 273.5 763.3 272.8 774.8 271.5 778.4 272.2 779.0 272.8 778.2 273.3ZM736.2 272.8L734.7 272.8 736.6 272.8 736.2 272.8ZM761.8 273.3L761.1 273.2 762.2 273.2 761.8 273.3ZM789.8 279.3L785.8 279.6 777.2 278.3 767.2 278.8 759.8 277.6 749.8 277.3 748.2 276.9 747.5 275.8 746.0 274.8 746.0 274.2 747.2 274.1 754.8 274.2 762.8 275.9 775.2 277.4 785.8 276.3 796.8 274.2 796.8 278.1 789.8 279.3ZM213.8 279.8L205.6 279.8 204.3 279.2 204.3 278.8 206.0 277.8 203.5 276.8 210.2 275.9 220.2 276.6 228.2 276.2 241.2 276.7 243.8 277.8 240.8 278.4 233.8 278.0 227.8 278.3 219.8 276.9 214.5 277.8 213.9 278.2 216.3 279.2 213.8 279.8ZM723.8 278.3L717.2 278.7 713.1 277.8 715.2 277.2 724.6 277.8 723.8 278.3ZM100.8 282.8L100.2 282.8 100.2 277.5 104.3 277.8 108.2 279.1 115.5 280.2 106.2 281.2 103.2 282.5 100.8 282.8ZM739.8 278.3L736.8 278.6 736.3 278.2 739.8 278.3ZM223.2 279.8L220.2 279.8 223.2 279.8ZM737.2 280.3L734.8 280.4 733.5 279.8 735.2 279.5 737.2 280.3ZM181.8 284.2L181.8 283.1 179.9 283.2 179.7 283.8 181.8 284.2ZM188.4 287.8L190.0 286.8 186.2 286.7 185.7 287.8 188.4 287.8ZM245.0 290.8L249.7 289.8 249.7 288.8 251.2 288.1 255.0 288.2 257.2 289.2 261.0 288.8 258.7 287.8 258.8 286.7 257.2 286.3 248.8 287.3 232.2 286.6 224.8 287.4 222.6 288.2 224.3 289.2 234.8 291.0 245.0 290.8ZM154.6 291.8L163.7 291.2 170.4 288.8 161.8 287.8 161.2 287.3 157.1 288.8 154.2 289.1 144.2 288.3 139.2 288.8 142.7 290.2 148.2 291.6 154.6 291.8ZM716.2 328.4L712.8 328.5 710.2 327.8 713.2 327.1 717.3 327.8 716.2 328.4ZM774.8 329.8L767.8 329.8 763.8 328.8 764.8 328.2 770.8 327.8 775.2 328.1 777.1 328.8 777.1 329.2 774.8 329.8Z"/>
<path fill="#036D53" fill-rule="evenodd" d="M450.2 158.3L442.2 158.5 435.8 157.4 421.8 157.0 418.8 156.1 417.1 154.8 421.2 153.8 433.2 154.5 451.1 157.8 450.2 158.3ZM158.2 327.8L152.8 327.2 136.2 327.5 124.2 326.2 119.2 324.5 116.2 324.2 111.2 324.5 100.2 326.6 100.2 324.5 106.3 324.2 100.2 323.8 100.2 289.5 102.2 289.2 106.1 287.2 109.8 286.9 134.2 286.9 135.5 287.2 134.3 288.2 135.0 288.8 144.9 291.8 143.3 292.8 149.8 293.4 154.4 292.2 166.2 291.4 167.0 291.2 167.1 290.2 169.8 289.6 181.8 289.9 182.2 288.9 189.8 288.6 192.2 287.8 193.0 286.2 190.2 285.5 183.5 286.2 183.2 287.2 182.2 287.9 181.8 280.8 182.2 277.8 189.1 279.2 189.8 280.8 188.5 282.2 189.8 283.1 200.2 284.8 211.8 283.1 227.2 283.6 228.8 283.2 228.2 281.7 240.2 282.0 263.2 280.7 265.0 280.2 270.2 276.2 271.8 272.2 271.5 271.2 269.2 270.6 261.2 271.6 242.8 270.3 234.6 271.8 219.2 272.4 213.8 271.8 211.0 270.2 217.2 269.2 229.2 268.9 233.3 267.8 237.8 267.3 243.2 268.1 251.2 267.6 260.2 269.5 263.8 269.7 264.3 269.2 262.4 268.2 261.9 266.2 276.7 263.8 276.6 262.8 273.8 261.5 279.2 260.3 281.4 257.8 273.8 256.3 264.8 257.5 238.8 257.8 234.8 256.8 232.2 254.6 227.8 254.2 214.8 254.2 215.5 255.2 214.2 256.3 203.2 256.4 190.3 255.2 194.8 253.8 193.2 252.9 182.2 252.3 181.8 251.3 173.8 251.5 169.8 250.2 170.4 249.8 177.8 249.2 181.8 249.4 182.2 248.1 182.8 248.0 188.8 248.8 193.0 248.8 186.7 246.8 190.6 245.8 184.2 245.3 180.8 244.4 171.2 245.6 156.8 246.3 148.8 245.6 145.8 246.8 147.3 247.8 138.8 248.9 122.8 248.0 121.2 247.6 120.2 246.2 116.2 245.9 112.2 246.8 111.8 247.2 113.0 248.2 100.2 249.4 100.2 211.3 112.8 211.2 119.2 209.7 128.8 209.9 132.6 209.2 134.6 208.2 138.2 207.9 147.8 208.8 155.2 208.4 161.7 210.2 165.2 210.7 180.2 210.7 182.9 209.2 179.9 206.8 183.8 203.6 187.8 203.1 199.8 203.6 207.8 202.2 212.5 203.2 212.8 204.2 210.8 205.8 212.2 206.1 223.8 206.1 230.8 205.2 235.6 205.2 239.5 206.8 239.2 208.2 241.2 208.6 274.2 209.0 289.8 209.9 305.7 209.8 307.1 208.8 306.0 206.2 313.7 204.2 314.9 202.8 314.8 199.8 316.2 198.6 320.4 196.8 321.7 194.8 321.4 193.2 320.2 191.8 320.4 191.2 322.4 189.8 325.2 186.2 327.2 185.1 333.3 183.8 335.2 182.0 341.6 179.8 342.5 178.8 346.0 177.2 346.9 176.2 344.2 175.3 336.0 175.2 336.9 174.8 350.8 173.3 352.1 172.8 352.8 171.8 356.8 170.6 357.8 169.0 360.2 168.4 380.2 168.2 382.8 167.8 384.4 166.2 386.2 165.8 398.2 165.0 402.5 163.8 402.7 163.2 400.9 161.8 403.1 161.2 418.8 159.6 432.8 159.2 441.8 160.8 445.3 162.2 446.3 163.8 458.0 166.2 458.2 166.8 457.0 168.2 462.0 170.2 475.9 172.2 479.8 173.8 479.8 174.3 474.3 175.8 476.6 176.8 483.2 177.5 499.8 176.2 505.8 177.7 518.8 177.0 526.2 177.8 526.9 178.2 524.8 178.8 508.8 179.5 507.8 180.0 507.5 181.2 506.5 181.8 500.8 182.6 497.2 183.8 497.5 184.2 502.8 185.0 513.6 187.8 514.0 188.2 513.0 188.8 507.4 189.8 507.2 190.2 514.2 193.5 528.2 196.8 526.3 199.8 527.3 200.8 535.1 201.8 541.2 204.3 546.8 205.5 563.8 206.8 577.8 206.9 588.2 208.3 594.8 208.0 599.9 206.8 595.8 205.0 589.2 204.2 591.2 202.8 589.2 201.2 595.8 200.6 603.9 201.8 605.8 202.2 607.8 203.6 612.8 204.2 632.8 202.2 649.2 202.6 653.0 203.2 653.1 203.8 651.9 204.2 646.4 205.8 647.1 207.2 645.1 208.8 648.2 209.1 658.2 208.4 671.2 208.5 680.2 209.0 682.8 209.9 690.8 210.1 709.2 209.7 718.2 208.7 732.2 209.5 762.2 208.8 786.2 209.5 796.8 207.8 796.8 242.6 789.8 242.1 781.2 242.6 752.2 242.2 746.2 242.6 742.2 243.2 741.1 243.8 741.1 244.2 747.8 246.2 749.0 247.2 748.4 247.8 743.8 248.1 735.8 247.1 718.8 246.2 709.8 244.7 700.2 244.5 688.8 243.0 685.8 245.0 677.5 246.2 677.8 246.9 680.8 247.2 681.3 247.8 677.0 248.8 681.8 250.0 686.2 250.2 687.0 251.2 686.2 252.5 679.8 252.4 676.8 254.0 672.4 254.8 672.4 255.2 676.8 256.0 686.2 255.5 687.5 260.2 688.8 269.0 691.8 275.4 693.8 277.1 698.0 278.8 697.5 280.2 697.9 280.8 701.6 281.8 701.7 282.2 698.8 285.0 698.9 286.2 705.8 287.9 714.8 288.2 710.0 289.2 709.3 289.8 710.2 290.6 719.2 291.3 729.8 290.0 741.8 290.9 752.2 290.3 757.8 291.4 767.8 291.8 773.2 291.2 773.1 290.2 776.5 289.8 784.8 289.2 796.8 289.3 796.8 327.4 790.2 327.1 788.2 326.0 786.2 325.7 740.2 326.1 709.8 324.7 699.2 321.4 696.8 319.8 696.3 319.2 696.4 317.8 692.1 310.8 688.2 301.6 686.2 302.6 683.8 301.6 616.2 297.0 604.2 294.2 576.2 284.1 569.8 279.7 559.8 270.7 544.8 262.8 519.8 255.0 517.2 253.6 514.5 250.8 510.9 248.2 506.0 246.8 506.2 245.8 505.2 245.4 478.2 242.8 451.2 243.3 442.8 242.6 430.8 243.0 419.8 244.9 397.2 245.5 389.8 245.0 377.8 246.5 358.5 245.2 344.2 243.1 338.2 243.3 332.8 244.2 330.3 245.2 329.7 247.2 324.8 250.3 322.1 253.2 317.0 255.8 311.3 265.8 307.5 268.2 306.8 270.8 303.9 274.8 303.0 278.8 298.6 281.8 298.4 284.2 296.9 286.8 296.3 291.2 292.6 294.8 291.3 301.2 292.4 304.2 290.8 306.2 290.7 307.8 289.2 309.8 286.7 312.2 282.7 314.2 269.2 317.0 268.2 318.2 267.8 321.9 264.8 325.1 244.2 325.0 234.8 324.1 214.2 325.8 193.8 324.0 181.8 324.4 165.8 323.7 158.3 324.2 155.5 325.2 160.4 327.2 158.2 327.8ZM491.2 169.8L486.8 169.3 485.8 168.8 489.2 168.0 492.6 168.8 492.8 169.3 491.2 169.8ZM502.8 172.8L493.8 172.2 491.8 171.8 491.6 171.2 493.2 170.3 498.2 170.1 505.8 170.5 509.2 171.2 508.9 171.8 502.8 172.8ZM240.2 197.3L236.2 196.9 236.8 196.2 236.4 195.2 236.7 194.8 232.0 193.2 236.2 192.4 242.7 193.2 243.2 193.8 240.9 195.8 242.1 196.8 240.2 197.3ZM597.8 194.3L596.3 194.2 598.2 194.2 597.8 194.3ZM256.8 205.3L243.8 204.8 245.0 204.2 254.7 202.8 257.8 201.8 257.8 201.2 245.8 200.3 242.5 199.2 247.2 198.8 258.8 199.1 262.2 199.7 267.0 201.8 266.0 203.2 262.8 204.5 256.8 205.3ZM289.8 207.8L283.8 208.0 282.2 207.7 281.1 206.8 282.2 206.0 285.8 205.7 294.8 206.8 289.8 207.8ZM636.4 207.8L637.8 207.2 633.2 206.7 628.6 207.2 631.2 207.9 636.4 207.8ZM666.2 206.8L662.3 206.8 666.7 206.8 666.2 206.8ZM619.0 208.2L620.4 207.8 618.2 207.2 616.1 207.8 616.7 208.2 619.0 208.2ZM680.2 207.4L678.3 207.2 680.2 207.4ZM191.5 209.2L194.6 208.8 190.8 208.1 186.4 208.8 191.5 209.2ZM251.5 250.2L253.4 249.8 255.5 248.2 251.7 246.8 252.4 246.2 257.2 244.8 263.1 244.2 259.8 243.2 236.2 243.6 222.2 243.0 209.8 243.6 201.6 245.2 202.5 245.8 207.8 246.2 210.2 248.9 212.2 249.4 232.2 248.7 237.2 249.0 245.2 250.6 251.5 250.2ZM287.2 245.8L293.8 245.0 295.3 244.2 295.3 243.8 292.8 243.2 286.2 243.1 273.5 244.8 273.5 245.2 274.2 245.4 287.2 245.8ZM438.8 244.9L436.9 244.8 438.8 244.9ZM247.8 246.8L243.8 246.9 240.9 246.2 243.8 245.7 249.2 246.2 247.8 246.8ZM686.2 247.0L684.3 246.8 685.8 245.9 686.4 246.2 686.2 247.0ZM646.0 246.8L642.5 246.8 646.0 246.8ZM775.2 247.8L771.2 248.1 768.7 247.2 770.2 246.6 773.2 246.5 775.7 247.2 775.2 247.8ZM279.4 254.2L288.2 252.8 288.0 252.2 285.2 251.5 284.9 250.8 290.1 249.8 291.4 248.8 286.2 247.1 284.2 247.0 264.8 249.9 260.2 251.1 248.8 251.1 235.7 253.2 240.8 253.8 253.2 253.0 261.8 253.6 267.8 254.7 276.2 254.7 279.4 254.2ZM713.8 252.3L693.8 251.4 693.0 251.2 692.8 250.2 693.2 249.1 694.8 248.5 711.2 248.2 715.7 249.2 716.5 249.8 716.1 250.2 718.2 251.8 713.8 252.3ZM206.8 250.2L207.4 249.8 205.6 249.2 199.3 249.2 206.8 250.2ZM143.8 251.8L140.1 251.8 142.8 250.7 146.8 250.8 143.8 251.8ZM102.2 252.8L100.2 252.8 100.2 250.9 104.8 251.1 106.3 251.8 105.2 252.4 102.2 252.8ZM666.1 252.2L666.0 251.8 663.2 251.1 659.8 250.8 658.0 251.2 658.3 251.8 660.8 252.4 666.1 252.2ZM122.8 256.3L115.8 256.3 114.1 255.2 114.9 254.2 117.6 253.8 133.2 252.8 136.2 252.9 141.6 254.2 140.2 254.8 122.8 256.3ZM796.8 257.6L787.1 257.2 783.1 256.8 782.9 256.2 787.8 255.0 796.8 254.7 796.8 257.6ZM721.2 257.9L717.8 258.1 716.5 257.8 721.7 257.8 721.2 257.9ZM129.8 260.3L123.2 260.2 123.7 259.8 126.8 259.7 129.8 260.3ZM697.2 260.3L694.1 260.2 697.2 260.3ZM243.2 264.8L230.8 265.0 221.2 264.3 215.2 263.1 207.3 262.8 218.8 261.2 239.2 261.0 247.8 260.4 251.8 260.8 252.0 261.2 249.8 262.8 243.2 264.8ZM199.8 270.8L191.2 271.0 182.2 270.6 181.8 267.8 182.2 265.2 182.9 264.8 182.2 264.7 182.0 263.8 182.2 261.9 188.8 262.0 195.8 261.3 202.1 262.2 202.2 262.8 189.2 265.2 200.2 266.3 201.3 266.8 200.4 267.8 201.1 268.2 205.9 269.8 205.1 270.2 199.8 270.8ZM750.2 267.3L748.7 267.2 750.7 267.2 750.2 267.3ZM715.8 269.6L707.6 269.2 713.9 268.8 716.2 269.2 715.8 269.6ZM718.8 269.8L717.5 269.8 718.8 269.8ZM723.2 270.3L720.4 270.2 723.7 270.2 723.2 270.3ZM776.8 272.8L771.8 272.8 770.7 272.2 774.2 272.0 776.4 272.2 776.8 272.8ZM197.8 276.3L182.8 276.6 182.2 276.6 181.9 275.2 182.2 273.8 192.7 273.8 198.8 274.8 198.8 275.8 197.8 276.3ZM772.8 278.3L768.2 278.4 764.2 277.6 752.0 276.8 750.6 276.2 749.5 274.8 755.3 274.8 772.4 277.8 772.8 278.3ZM787.2 279.3L777.6 277.8 796.8 274.6 796.8 277.2 787.2 279.3ZM212.2 279.3L206.6 279.2 208.8 277.8 206.6 276.8 211.8 276.1 216.5 276.8 210.8 278.2 212.2 278.8 212.6 279.2 212.2 279.3ZM230.8 277.3L225.7 277.2 227.2 276.7 230.8 277.3ZM241.8 277.8L238.2 277.9 236.5 277.2 240.2 277.1 241.8 277.8ZM241.4 291.8L256.8 290.2 262.6 288.8 260.8 287.2 261.3 286.2 260.8 285.8 255.8 285.1 248.2 286.8 235.8 286.2 230.2 286.5 222.2 287.3 221.0 287.8 220.1 288.8 221.8 289.5 232.2 291.4 241.4 291.8ZM154.2 288.8L146.0 287.8 146.7 287.2 153.2 287.2 156.8 287.2 157.0 287.8 154.2 288.8ZM178.2 287.8L171.8 288.2 165.8 287.8 165.6 287.2 172.8 286.9 179.7 287.2 178.2 287.8ZM137.2 293.8L139.8 293.2 136.2 292.6 132.1 293.2 137.2 293.8ZM773.8 329.3L769.8 329.5 767.5 328.8 771.8 328.6 773.8 329.3Z"/>
<path fill="#196640" fill-rule="evenodd" d="M433.2 156.8L432.1 156.8 433.2 156.8ZM141.2 327.3L125.6 325.8 120.2 323.5 100.2 323.1 100.2 291.1 133.2 291.2 133.6 291.8 132.4 292.2 128.8 292.9 117.8 293.0 114.6 293.8 116.8 294.2 131.8 294.7 164.8 294.4 167.3 293.8 167.4 293.2 166.1 292.2 170.4 291.8 170.8 291.1 181.8 291.1 182.2 289.4 187.2 289.2 196.2 289.0 206.8 290.0 217.8 290.0 229.8 291.8 237.8 292.4 259.2 290.7 263.6 288.8 262.4 287.2 263.0 286.2 262.5 285.2 251.8 284.5 249.8 284.8 249.6 285.8 248.7 286.2 246.8 286.4 235.2 285.5 224.2 286.8 217.8 286.4 217.0 286.8 218.6 287.8 218.2 288.2 210.8 289.4 196.8 288.3 195.2 287.6 194.2 285.3 192.6 284.8 193.8 284.4 201.8 285.1 212.8 283.5 229.8 284.1 233.2 282.6 257.8 281.7 265.2 280.7 270.9 276.2 272.7 271.8 272.2 270.7 270.8 269.8 264.2 268.3 263.1 266.2 269.2 264.9 277.8 264.0 278.0 263.2 277.0 261.8 280.3 260.2 282.7 257.8 282.2 257.2 279.0 256.2 278.9 255.2 281.3 254.2 287.2 253.5 289.4 252.8 289.5 252.2 286.5 251.2 286.3 250.8 291.2 249.8 292.2 248.8 287.8 246.2 294.2 245.2 295.6 244.8 296.5 243.8 294.2 243.0 287.8 242.7 269.8 244.1 261.2 242.6 236.2 243.3 221.2 242.8 209.3 243.2 201.2 244.1 196.8 245.3 185.2 245.0 180.2 244.0 170.8 245.4 157.2 245.8 150.2 244.8 146.8 245.5 141.6 247.8 138.2 248.4 124.8 247.9 122.5 247.2 122.3 246.2 121.2 245.8 115.8 245.5 106.5 246.8 106.6 247.2 108.5 247.8 107.8 248.2 100.2 248.5 100.2 245.0 102.7 244.8 105.8 243.2 100.2 242.7 100.2 211.6 112.8 211.6 119.8 210.6 127.8 210.5 133.2 209.8 136.2 208.7 142.8 208.8 147.8 209.4 154.2 209.3 162.8 210.9 174.2 211.2 180.8 211.0 183.2 209.9 196.2 209.5 198.2 209.2 198.6 208.8 194.2 207.6 232.8 207.6 235.2 207.7 237.4 208.8 239.8 209.0 264.2 209.2 288.8 210.3 305.8 210.1 307.8 209.2 308.2 207.8 307.9 206.2 314.4 204.2 315.6 202.8 316.5 199.8 321.2 196.8 322.6 194.8 321.9 191.2 327.0 185.8 333.8 184.1 343.1 180.2 351.9 175.8 352.2 174.8 354.9 173.8 355.8 172.0 367.8 168.8 383.2 168.7 385.8 168.2 387.8 166.6 394.8 166.3 401.2 165.2 406.3 163.2 404.8 162.2 405.2 161.8 423.2 160.0 432.8 159.7 440.1 161.2 445.9 164.2 456.1 166.2 456.3 166.8 455.2 168.2 457.1 169.2 465.2 171.5 472.5 172.2 475.2 173.2 476.9 174.2 471.8 175.8 474.8 177.0 482.2 178.0 496.8 177.6 505.8 178.7 514.8 178.0 520.3 178.2 505.8 178.8 503.4 181.2 499.8 181.5 494.8 183.6 494.3 184.2 511.1 187.8 509.5 188.8 503.7 189.8 509.2 191.7 512.8 193.8 525.7 196.8 526.1 197.2 524.6 199.8 525.3 200.8 535.3 202.2 542.9 205.2 544.8 207.3 577.8 207.6 588.8 208.7 601.8 207.6 612.2 207.6 613.2 208.5 616.2 208.9 625.2 208.3 637.8 208.4 641.8 209.4 651.2 209.6 670.8 208.9 680.2 209.5 682.8 210.3 691.8 210.5 710.2 210.0 716.8 209.2 732.8 209.8 762.8 209.2 787.2 209.7 796.8 208.7 796.8 241.8 765.8 242.5 751.2 241.8 743.2 242.5 739.6 243.8 740.8 245.0 746.6 246.8 746.2 247.3 743.8 247.7 736.8 246.8 719.2 245.8 710.2 244.4 701.8 244.3 688.8 242.5 686.2 244.1 674.4 245.8 672.2 248.2 674.2 249.2 680.9 250.8 680.2 251.0 670.8 251.3 656.2 249.5 649.4 249.8 643.9 250.8 645.2 251.2 650.9 251.2 653.5 252.8 665.2 254.4 667.5 255.8 666.7 256.8 667.0 257.2 669.2 257.7 677.8 257.9 683.8 257.0 686.2 257.2 689.2 270.8 692.2 276.5 693.8 277.7 696.8 278.8 696.8 280.5 699.3 282.2 698.1 284.8 698.3 286.2 699.2 286.9 708.1 288.8 707.9 290.2 709.8 291.1 719.8 292.0 726.8 290.7 732.8 290.5 734.9 290.8 735.7 291.8 741.8 292.3 750.8 290.7 754.2 292.0 766.8 292.1 773.2 291.7 774.9 291.2 775.9 290.2 777.2 290.1 796.8 289.5 796.8 327.1 792.2 326.8 791.6 326.2 793.1 325.2 790.8 324.9 737.8 325.5 710.2 324.2 707.2 323.6 699.2 321.0 697.4 319.8 696.1 315.8 692.4 310.8 691.9 308.8 690.2 306.2 688.2 300.9 686.2 301.6 683.8 300.4 616.2 295.5 608.7 293.8 592.8 288.4 576.2 282.0 569.8 277.4 559.8 268.5 544.8 260.6 520.2 253.8 513.2 248.0 509.9 246.8 507.2 245.0 479.2 242.6 443.8 242.2 428.8 242.4 418.2 244.1 406.8 243.6 403.2 244.6 398.2 244.6 396.2 243.7 390.2 243.3 386.2 243.6 384.8 244.6 357.8 244.6 343.2 242.7 333.6 243.2 330.2 244.2 328.7 245.2 328.7 246.8 323.7 250.2 321.6 252.8 315.9 255.8 310.6 265.2 306.3 268.2 305.8 270.8 302.9 274.8 301.9 278.8 297.6 281.8 297.4 284.2 295.9 286.8 295.3 291.2 291.5 294.8 290.3 301.2 291.6 304.2 289.9 306.2 289.4 308.2 286.4 311.8 282.8 313.7 268.8 317.2 268.0 318.2 267.8 321.6 264.8 324.3 257.2 324.7 239.2 323.6 224.8 323.7 222.2 323.8 218.8 325.2 213.8 325.5 195.8 323.5 180.8 323.9 164.2 323.2 153.8 324.2 149.8 326.6 141.2 327.3ZM184.2 208.3L183.1 208.2 182.8 207.8 188.2 207.8 184.2 208.3ZM161.2 243.8L161.3 243.2 158.8 243.1 154.7 243.8 161.2 243.8ZM648.0 247.8L651.1 247.2 650.3 245.2 647.8 244.6 643.2 244.4 637.2 245.7 627.2 245.3 624.3 245.8 623.8 246.2 632.8 246.6 641.8 247.8 648.0 247.8ZM273.8 247.8L257.8 247.5 254.4 246.8 257.2 245.7 260.8 245.3 267.8 245.5 274.2 246.7 278.8 246.0 281.9 246.2 273.8 247.8ZM207.2 248.3L197.2 248.5 191.2 246.8 196.8 246.1 204.8 246.5 207.1 247.2 207.6 247.8 207.2 248.3ZM211.2 256.3L203.7 256.2 192.5 255.2 196.1 253.8 194.2 252.5 188.6 251.8 182.2 251.9 181.3 250.2 181.8 250.2 182.2 248.6 186.2 249.4 194.8 249.5 199.8 250.2 206.5 253.8 213.4 255.2 213.5 255.8 211.2 256.3ZM708.8 251.3L695.8 250.8 694.3 249.2 695.2 248.7 708.2 248.6 711.4 248.8 711.9 249.2 711.1 250.8 708.8 251.3ZM231.8 253.8L216.8 253.6 207.7 252.2 213.7 250.2 229.2 248.9 236.8 249.3 242.8 250.8 243.1 251.2 231.8 253.8ZM258.8 250.8L255.2 250.2 257.8 249.0 260.2 249.2 261.0 249.8 258.8 250.8ZM178.8 250.8L175.2 250.8 173.9 250.2 177.8 249.7 180.7 250.2 178.8 250.8ZM686.2 251.4L684.2 251.2 686.2 251.4ZM248.2 257.3L241.8 257.5 237.2 257.1 235.3 256.2 234.6 254.2 256.2 253.5 262.2 254.2 268.2 256.2 263.8 257.1 248.2 257.3ZM241.8 264.3L235.8 264.7 222.8 264.0 213.5 262.2 220.2 261.4 238.8 261.4 247.8 260.7 250.1 261.2 247.8 263.0 241.8 264.3ZM192.8 264.3L187.2 264.6 182.2 264.1 182.2 262.8 191.2 262.5 193.8 263.0 194.7 263.8 192.8 264.3ZM194.2 270.8L182.2 270.4 182.2 265.8 196.5 266.2 198.6 266.8 198.2 267.8 201.0 269.8 194.2 270.8ZM230.8 271.8L219.8 272.2 216.0 271.8 215.6 271.2 217.2 270.8 217.4 269.8 219.2 269.4 224.2 269.2 231.8 269.8 233.2 268.7 236.2 268.1 243.8 269.1 247.8 268.0 251.2 268.0 259.8 270.2 253.8 270.6 241.8 269.8 230.8 271.8ZM185.8 276.3L182.2 276.1 182.2 274.4 190.2 274.0 195.2 274.8 193.1 275.8 185.8 276.3ZM796.8 276.4L794.5 276.2 796.8 275.7 796.8 276.4ZM213.8 276.8L210.8 277.2 208.9 276.8 214.1 276.8 213.8 276.8ZM788.8 278.8L784.5 278.8 781.2 277.8 787.2 277.3 789.8 277.6 790.5 278.2 788.8 278.8ZM185.8 282.8L182.2 283.2 182.2 278.2 186.8 279.0 188.3 279.8 186.0 281.2 185.8 282.8ZM185.8 285.3L182.2 285.4 182.2 284.3 185.8 284.8 186.2 285.2 185.8 285.3ZM101.2 326.3L100.2 326.3 100.2 325.2 103.3 325.8 101.2 326.3Z"/>
<path fill="#4D6F2A" fill-rule="evenodd" d="M780.2 324.8L735.2 325.1 710.2 323.8 707.4 323.2 698.0 319.8 696.6 315.8 692.7 310.8 692.2 308.8 690.4 305.8 688.2 300.2 686.2 300.7 683.8 299.2 614.7 293.8 592.8 286.5 576.2 279.8 569.8 275.1 560.2 266.6 551.4 261.8 544.8 258.4 539.5 256.8 522.8 253.3 515.8 247.8 509.4 244.8 496.2 243.0 445.8 241.9 428.8 242.0 417.8 242.9 378.8 242.5 351.8 242.9 343.2 242.3 333.2 242.8 329.4 243.8 327.2 245.2 327.2 246.8 322.5 250.2 320.4 252.8 314.8 255.8 309.4 265.2 305.2 268.2 305.1 270.2 301.8 274.8 300.7 278.8 296.5 281.8 296.3 284.2 294.8 286.8 294.1 291.2 290.3 294.8 289.2 301.2 290.6 304.2 288.8 306.2 288.4 308.2 285.3 311.8 283.2 312.9 279.9 314.2 268.8 317.0 267.9 318.2 267.8 321.3 264.8 323.0 255.8 323.7 218.2 323.1 216.4 323.2 218.0 324.8 211.8 324.9 197.8 323.1 179.8 323.4 164.8 322.6 150.8 323.8 149.2 324.8 128.2 324.8 126.2 324.2 126.0 323.8 127.1 322.8 126.2 322.6 100.2 322.6 100.2 293.9 108.4 294.2 104.4 294.8 106.2 295.3 165.2 295.7 171.3 295.2 173.0 294.8 173.2 293.9 181.8 293.9 182.2 289.8 185.8 289.5 195.2 289.5 210.2 290.8 212.1 291.2 209.1 291.8 209.5 292.2 221.8 293.0 242.2 292.8 261.5 290.8 264.4 288.8 263.7 287.2 264.4 285.2 263.7 284.8 250.2 283.7 239.2 284.4 234.8 283.9 234.2 283.2 250.4 282.2 259.8 282.5 267.2 280.3 271.6 276.2 273.4 271.2 272.0 269.2 265.7 268.2 265.7 267.2 264.6 266.2 269.2 265.2 278.5 264.2 279.0 263.8 279.0 261.8 283.7 257.8 283.2 256.9 281.2 256.1 280.5 255.2 281.8 254.5 287.6 253.8 290.3 252.8 290.2 252.0 287.8 250.8 292.1 249.8 293.1 248.8 289.7 246.2 295.5 245.2 297.6 243.8 295.2 242.8 286.8 242.4 270.2 243.6 264.2 242.3 260.8 242.1 243.8 242.9 212.8 242.8 192.8 243.6 186.8 244.5 178.8 243.5 172.2 244.9 166.2 245.3 160.2 244.8 165.7 243.2 157.8 242.6 151.0 243.2 142.8 246.1 133.8 247.3 125.9 247.2 124.8 246.8 124.9 246.2 124.2 245.8 118.2 245.0 107.8 245.4 106.8 244.2 109.2 243.2 108.9 242.8 100.2 242.3 100.2 211.9 114.8 211.9 133.2 210.5 157.2 210.5 163.0 211.2 179.8 211.4 183.2 210.3 194.2 210.1 202.8 209.3 219.2 209.3 220.7 209.8 219.8 210.2 221.2 210.3 223.0 210.2 223.8 209.4 224.8 209.3 236.2 209.3 266.2 209.6 287.8 210.6 305.8 210.4 308.6 209.2 309.1 206.2 314.1 204.8 315.8 203.8 318.8 198.8 321.5 197.2 323.1 195.2 323.2 192.2 323.8 191.2 331.0 185.8 345.6 180.2 350.8 177.2 358.2 174.0 376.2 169.7 386.8 168.8 391.2 167.5 402.8 165.7 418.8 161.3 432.8 160.3 438.6 161.8 442.3 163.8 452.8 167.2 453.9 168.8 469.2 174.0 470.5 174.8 469.4 175.2 469.5 175.8 471.5 176.8 479.1 178.2 482.8 179.5 491.5 183.2 491.2 184.2 492.0 184.8 498.4 185.8 505.1 187.8 505.6 188.2 505.2 188.8 501.9 189.2 501.4 189.8 507.8 191.8 512.2 194.2 523.1 196.8 523.9 197.2 523.1 199.8 523.6 200.8 533.3 202.2 541.1 205.2 542.4 207.8 544.2 209.1 635.2 209.3 642.8 210.0 670.2 209.4 680.2 209.8 682.8 210.8 691.8 210.9 796.8 210.5 796.8 240.9 766.8 242.3 752.2 241.3 742.2 241.9 738.1 243.8 739.8 245.4 743.0 246.2 741.2 246.5 729.0 246.2 717.2 245.3 710.8 244.1 702.2 244.0 689.2 241.8 686.2 243.4 673.2 245.2 669.8 246.8 660.2 246.7 654.8 246.1 652.9 244.2 653.2 243.2 651.8 242.9 632.8 242.8 627.8 244.2 621.8 244.9 618.2 246.1 606.2 247.6 602.8 248.8 606.2 249.7 613.8 249.7 623.1 247.8 627.8 247.5 642.2 248.8 644.4 249.2 637.7 251.2 639.8 252.0 646.2 252.5 655.8 255.0 660.2 255.2 657.3 257.2 657.1 257.8 658.1 258.2 675.0 259.2 686.2 259.1 686.9 260.2 689.2 271.5 691.8 276.4 693.8 278.3 695.4 278.8 696.0 280.8 698.0 282.2 697.4 284.2 697.7 286.2 699.2 287.3 705.8 289.0 707.0 290.8 709.2 291.7 718.8 292.7 727.8 291.4 739.8 292.9 766.8 292.5 774.8 291.9 778.8 290.4 796.8 289.8 796.8 324.1 780.2 324.8ZM268.2 246.8L256.8 246.8 258.2 246.1 262.2 245.7 267.2 246.2 268.2 246.8ZM204.8 248.3L199.3 248.2 195.0 247.2 201.8 246.9 205.8 247.8 204.8 248.3ZM229.2 253.3L218.8 253.4 212.0 252.2 212.2 251.8 215.2 250.7 229.2 249.2 236.2 249.5 240.8 250.8 240.9 251.2 229.2 253.3ZM194.2 251.3L185.8 251.0 182.2 251.4 182.0 250.2 182.2 249.4 185.8 250.0 194.2 249.9 197.0 250.2 197.4 250.8 194.2 251.3ZM673.2 250.3L669.2 250.3 668.1 249.8 671.2 249.7 673.2 250.3ZM211.2 255.8L201.8 255.9 195.2 255.2 195.1 254.8 197.0 254.2 197.9 252.8 199.8 252.6 211.2 255.2 211.2 255.8ZM262.8 256.8L255.8 256.5 246.5 254.8 246.7 254.2 251.2 253.7 258.8 254.0 264.8 256.2 262.8 256.8ZM248.2 256.8L241.8 257.1 236.9 256.2 238.2 254.8 240.1 254.8 248.1 256.2 248.2 256.8ZM238.2 264.3L223.6 263.8 216.4 262.2 220.2 261.6 245.2 261.5 246.8 261.7 247.3 262.2 247.2 262.8 245.4 263.2 238.2 264.3ZM188.8 264.3L183.2 263.8 182.2 263.5 182.2 263.0 189.8 263.0 192.3 263.8 188.8 264.3ZM196.2 270.3L182.2 270.0 182.2 266.6 187.8 266.1 195.9 266.8 195.8 267.8 197.8 269.2 197.7 269.8 196.2 270.3ZM226.8 271.8L219.8 271.8 218.7 271.8 218.7 271.2 220.0 270.8 220.2 269.8 221.8 269.6 234.2 270.8 226.8 271.8ZM255.8 270.3L251.1 269.8 252.8 269.3 256.2 269.8 255.8 270.3ZM185.2 275.8L182.2 275.6 182.2 275.0 187.8 274.4 189.9 274.8 185.2 275.8ZM182.8 282.3L182.2 282.2 182.2 278.6 187.0 279.8 182.7 281.2 183.1 281.8 182.8 282.3ZM212.8 288.8L199.8 288.0 197.2 287.2 196.6 286.2 197.8 285.6 202.8 285.5 209.2 284.1 216.4 284.2 214.8 285.2 214.2 286.2 216.5 287.8 212.8 288.8ZM226.8 286.3L221.7 286.2 218.2 284.8 219.6 284.2 224.8 284.2 229.9 285.2 229.6 285.8 226.8 286.3ZM244.2 285.8L243.1 285.8 244.2 285.8ZM796.8 326.8L793.8 326.2 796.8 325.7 796.8 326.8Z"/>
<path fill="#728321" fill-rule="evenodd" d="M773.2 324.3L757.2 323.9 736.2 324.6 709.8 322.7 698.8 319.4 696.9 315.2 693.0 310.8 692.6 308.8 688.2 299.6 686.2 299.7 683.8 298.0 633.8 294.2 615.8 292.1 593.2 284.7 576.2 277.6 569.8 272.9 559.8 263.9 545.2 256.3 528.2 252.7 512.8 244.7 497.8 242.2 446.2 241.5 411.2 242.1 344.2 241.8 331.8 242.6 327.8 243.7 325.6 245.2 325.6 246.8 320.8 250.7 319.2 252.8 313.6 255.8 310.9 261.2 308.2 265.2 303.9 268.2 304.0 270.2 300.7 274.8 299.6 278.8 295.4 281.8 295.2 284.0 293.8 286.2 293.0 291.2 289.2 294.8 288.0 301.2 289.7 303.8 287.8 306.2 287.3 308.2 283.2 312.3 273.8 315.7 268.8 316.8 267.8 317.8 267.8 320.4 267.3 321.2 264.8 322.4 249.8 323.0 216.8 322.4 212.8 322.8 211.8 323.4 206.2 323.4 196.8 322.6 176.8 322.8 167.8 322.0 149.8 323.0 134.2 322.9 133.2 322.2 129.8 321.8 113.2 322.4 100.2 322.1 100.2 296.3 181.8 296.5 182.2 290.1 188.0 289.8 204.1 290.8 206.1 291.2 205.1 292.2 206.8 292.7 221.2 293.8 244.2 293.4 252.2 292.9 262.0 291.2 265.2 288.8 264.7 287.2 265.5 285.2 263.3 283.8 263.6 282.8 268.2 280.2 272.7 275.2 274.0 270.8 273.6 269.2 271.9 268.2 276.1 265.2 279.9 263.8 280.3 261.8 284.6 257.2 282.1 255.2 288.8 253.8 291.0 252.8 291.2 252.2 289.8 250.8 292.8 249.9 293.8 248.8 293.2 247.8 291.4 246.8 291.5 246.2 296.6 245.2 298.5 243.8 297.2 242.8 293.8 242.3 278.8 242.2 271.2 242.9 262.8 241.7 243.8 242.6 212.8 242.5 183.8 243.8 179.8 242.6 171.2 243.1 160.2 242.3 144.2 242.2 135.5 242.8 137.2 243.4 143.8 243.8 144.3 244.2 140.2 245.5 136.2 245.9 122.8 244.2 126.8 243.4 127.3 242.8 124.8 242.4 120.2 242.4 118.6 242.8 117.8 243.6 114.8 243.8 112.8 243.5 111.8 242.8 109.7 242.2 100.2 242.0 100.2 212.2 114.8 212.3 129.8 211.3 180.2 211.7 183.2 210.7 202.2 210.1 212.8 210.1 221.8 210.8 230.2 210.1 266.2 210.1 289.8 210.9 306.2 210.6 309.4 209.2 310.3 206.2 316.6 203.8 319.8 198.8 322.2 197.2 323.9 195.2 324.8 192.8 333.7 185.8 348.2 180.2 351.5 178.8 352.8 177.6 358.2 175.6 383.2 169.8 406.2 166.0 411.2 164.4 432.8 161.1 465.8 174.2 466.4 175.2 468.2 176.2 479.2 180.0 485.2 183.4 490.0 185.2 499.5 187.8 500.5 188.8 499.2 189.2 500.1 190.2 507.2 192.2 512.2 194.9 521.2 197.2 521.8 198.8 521.4 200.2 521.9 200.8 532.8 202.8 539.4 205.2 541.7 208.8 544.2 210.0 619.8 210.0 630.8 210.6 665.8 210.1 680.2 210.2 683.2 211.4 770.2 211.3 776.2 211.9 796.8 211.3 796.8 240.4 766.2 242.0 751.8 240.9 728.3 241.2 736.6 242.2 736.8 245.2 733.8 245.8 726.8 245.0 715.8 244.8 711.2 243.8 702.8 243.8 695.4 242.2 695.1 241.2 690.8 241.0 688.3 241.2 686.2 242.8 682.8 242.9 680.2 243.9 665.8 246.0 658.1 245.8 656.4 244.2 656.4 242.8 649.2 242.1 630.8 242.4 622.8 244.0 608.7 244.2 607.6 244.8 608.8 245.2 605.3 245.8 599.8 245.8 604.4 244.8 603.7 244.2 599.2 244.0 587.6 244.8 585.1 245.8 586.2 246.8 600.2 250.3 622.8 251.1 633.8 252.2 638.2 253.5 644.5 253.8 649.1 255.8 648.5 257.2 649.3 257.8 656.2 259.2 675.8 260.5 686.2 260.1 689.2 272.1 692.2 277.7 696.9 282.2 696.6 284.2 697.1 286.2 698.8 287.5 704.5 289.2 706.8 291.7 710.2 292.9 720.2 293.5 727.2 292.4 740.2 293.4 758.8 292.7 767.8 293.1 779.8 291.2 787.0 291.2 791.0 290.2 796.8 290.2 796.8 292.1 794.6 292.2 796.8 292.4 796.8 323.6 773.2 324.3ZM170.2 244.3L167.0 244.2 170.7 243.8 170.2 244.3ZM227.8 252.3L220.2 252.6 215.3 251.8 218.2 250.8 229.8 249.5 235.8 249.7 239.0 250.8 238.8 251.2 236.2 251.7 227.8 252.3ZM182.8 250.8L182.2 250.8 182.2 250.1 183.3 250.2 182.8 250.8ZM193.8 250.8L189.3 250.8 189.5 250.2 192.2 250.2 193.9 250.2 193.8 250.8ZM726.8 294.8L728.6 294.2 725.1 294.2 725.6 294.8 726.8 294.8Z"/>
<path fill="#98891B" fill-rule="evenodd" d="M781.2 323.3L740.2 323.4 709.8 321.3 699.2 318.1 697.6 315.2 693.6 311.2 688.8 299.6 688.2 298.9 686.2 298.8 684.2 296.9 637.2 293.1 615.8 290.3 593.2 282.8 576.2 275.4 569.8 270.6 559.8 261.6 545.2 254.1 532.1 250.8 514.9 244.2 503.8 242.2 497.2 241.5 445.8 241.0 410.2 241.5 345.2 241.3 331.8 242.2 327.0 243.2 324.6 244.8 323.4 247.2 318.0 252.8 312.4 255.8 310.3 259.2 309.8 261.2 306.9 265.2 302.6 268.2 302.9 270.2 299.3 275.2 298.3 278.8 294.3 281.8 294.2 283.8 292.6 286.2 292.6 288.8 291.7 291.2 287.9 294.8 286.8 301.2 288.7 303.8 286.6 306.2 286.2 308.2 283.1 311.8 274.2 315.2 268.5 316.8 267.4 317.8 267.1 320.2 265.2 321.8 182.2 322.2 181.8 321.6 169.8 321.3 100.2 321.3 100.2 297.3 181.8 297.4 182.2 291.5 196.9 291.8 190.0 293.2 192.8 294.0 202.8 293.1 226.2 294.4 253.8 293.8 262.8 291.5 265.8 288.8 265.5 287.2 266.4 285.2 265.4 283.8 265.8 282.2 270.7 278.8 273.0 275.8 274.6 271.8 274.6 269.2 274.0 268.2 280.2 264.2 281.3 261.8 285.1 257.8 285.2 256.8 284.3 255.8 284.8 255.2 291.6 252.8 292.0 252.2 291.5 250.8 293.7 249.8 294.5 248.8 294.4 247.8 292.9 246.8 293.2 246.4 297.5 245.2 299.5 243.8 298.7 242.8 295.2 242.1 265.2 241.3 250.2 241.4 243.2 242.2 235.2 241.7 229.8 242.3 194.8 242.6 183.8 243.2 180.8 242.0 165.8 242.3 148.2 241.3 130.8 242.4 100.2 241.7 100.2 212.5 113.2 212.7 132.2 212.0 180.2 212.1 183.2 211.1 201.8 210.7 222.8 211.1 245.2 210.7 306.2 211.0 309.7 209.8 311.7 206.2 317.5 203.8 320.8 198.8 323.5 196.8 325.4 193.8 334.8 186.4 344.2 182.2 350.7 180.2 355.8 177.8 396.9 167.8 410.1 166.2 414.8 165.0 432.8 162.3 456.8 171.7 464.9 175.8 473.4 178.8 480.8 182.0 484.1 184.2 495.2 187.7 496.4 188.2 496.4 189.2 497.8 190.2 505.2 192.2 511.2 195.7 519.0 198.2 519.8 198.9 519.8 200.2 521.3 201.2 532.8 203.5 537.5 205.2 541.0 209.2 544.2 210.6 616.8 210.7 630.8 211.2 642.2 210.7 680.2 210.8 683.2 212.0 768.2 212.0 775.8 212.4 796.8 212.0 796.8 240.1 765.8 241.6 749.8 240.3 730.2 240.4 717.8 241.5 690.2 240.5 688.2 240.7 686.2 241.9 672.2 243.1 670.5 242.2 668.2 242.1 662.2 242.6 649.8 241.7 632.2 241.9 620.8 243.5 595.8 243.3 582.8 244.4 580.8 244.8 579.4 245.8 580.2 246.8 594.2 251.6 612.2 251.2 615.5 251.8 615.6 252.2 614.7 252.8 615.8 253.4 623.2 252.6 631.9 253.8 632.0 254.2 630.2 254.7 621.2 255.2 620.5 255.8 622.6 256.2 644.8 258.0 647.9 258.8 648.8 259.8 650.2 260.3 659.2 260.6 665.2 261.6 680.8 261.6 685.8 262.2 686.3 262.8 689.2 272.8 692.2 278.6 695.5 282.2 696.5 286.2 698.8 287.9 702.5 289.2 705.4 292.2 709.8 294.0 716.3 294.2 719.6 295.2 724.8 295.7 736.2 294.4 745.8 294.5 759.8 293.5 763.7 293.8 765.8 295.2 774.2 296.5 776.3 296.2 770.9 294.8 775.2 293.6 796.8 294.0 796.8 323.2 781.2 323.3ZM665.2 245.3L662.4 245.2 660.9 244.8 660.5 243.8 662.8 243.1 669.3 243.8 670.1 244.2 665.2 245.3Z"/>
<path fill="#AF8E18" fill-rule="evenodd" d="M796.8 322.4L739.8 321.9 710.2 319.9 699.8 317.2 694.2 311.2 688.2 298.2 686.2 297.9 684.2 295.8 649.8 293.0 615.8 288.6 593.2 280.9 576.2 273.3 569.8 268.3 559.8 259.4 545.2 252.2 516.8 243.8 503.8 241.5 494.2 240.8 347.2 240.7 335.2 241.3 326.5 242.8 323.0 244.8 321.7 247.2 316.7 252.8 311.2 255.8 309.1 259.2 308.8 261.2 306.1 264.8 301.2 268.2 301.7 270.2 298.0 275.2 297.1 278.8 293.1 281.8 293.0 283.8 291.6 285.8 291.5 288.8 290.2 291.8 286.7 294.8 285.6 301.2 287.4 303.8 285.4 306.2 285.1 308.2 282.8 310.8 280.3 312.2 273.3 315.2 268.2 316.7 267.1 317.8 266.2 320.2 264.2 321.2 182.2 321.3 181.8 319.2 100.2 319.2 100.2 298.2 181.8 298.2 182.2 293.2 186.3 293.2 187.2 294.5 190.8 294.9 205.8 294.5 241.8 294.9 255.8 294.3 263.2 291.9 264.8 291.1 266.3 289.2 266.3 287.2 267.2 285.2 266.6 283.8 267.0 282.2 271.5 278.8 273.6 275.8 275.1 271.8 275.3 268.2 280.9 264.2 282.2 261.8 285.7 257.8 285.6 255.8 292.2 252.8 292.8 250.8 295.3 248.8 295.4 247.8 294.6 246.8 298.4 245.2 300.5 243.2 298.9 242.2 295.8 241.8 266.8 240.9 249.2 241.0 242.2 241.5 234.8 241.2 228.2 241.9 203.2 242.4 184.2 242.4 180.8 241.3 157.2 241.2 146.8 240.7 132.2 241.2 100.2 241.2 100.2 212.8 180.2 212.6 183.2 211.5 200.8 211.3 306.2 211.3 310.7 209.8 313.0 206.2 318.2 203.8 321.8 198.8 326.9 193.8 333.7 188.2 346.5 182.2 352.0 180.8 358.2 178.0 380.8 172.7 386.8 171.8 399.8 168.1 415.4 166.2 432.8 163.4 471.2 178.9 479.2 182.5 483.0 184.8 492.2 187.7 495.6 190.2 503.8 192.6 509.5 196.2 517.2 199.0 519.5 201.2 535.2 205.2 540.4 209.8 544.2 211.2 679.8 211.3 682.8 212.5 687.8 212.6 796.8 212.5 796.8 239.7 765.8 240.9 747.8 239.8 716.8 240.5 689.2 240.0 682.8 240.7 680.2 241.7 643.8 241.2 630.2 241.6 621.7 242.8 613.8 243.0 602.8 242.8 598.3 241.8 594.2 241.6 589.8 242.2 589.0 243.2 574.0 244.2 576.2 246.8 593.2 253.3 608.4 254.8 610.2 256.2 613.0 256.8 641.8 259.1 642.3 259.2 642.0 260.2 650.2 262.9 662.2 263.4 674.2 262.9 677.1 263.2 679.0 264.2 683.6 265.2 686.2 264.7 687.2 266.5 689.2 273.5 695.9 286.2 703.4 292.2 709.8 295.6 740.2 296.9 770.8 297.3 775.8 297.9 781.2 297.4 796.8 297.5 796.8 322.4Z"/>
<path fill="#C58920" fill-rule="evenodd" d="M264.2 320.3L182.2 320.3 181.8 317.5 100.2 317.5 100.2 299.1 181.8 299.1 182.2 295.4 240.2 295.7 255.2 295.0 258.8 294.4 264.7 291.8 266.2 290.4 267.8 285.8 268.0 282.2 272.2 278.8 273.8 276.2 275.5 272.2 276.2 268.2 281.6 264.2 283.3 261.2 286.3 257.8 286.6 255.8 292.8 252.8 293.3 251.2 296.2 248.2 296.1 246.8 300.2 244.8 301.7 243.2 300.2 242.1 296.2 241.4 267.2 240.5 234.2 240.8 226.2 241.5 216.2 241.3 203.8 241.9 183.2 241.6 180.8 240.4 156.8 240.3 141.8 239.7 125.8 239.6 114.2 240.3 100.2 240.3 100.2 213.1 180.2 213.1 183.2 211.8 195.2 211.7 306.8 211.7 311.8 209.8 314.2 206.2 318.5 204.2 323.3 198.2 334.8 188.5 347.2 182.9 358.2 179.0 388.8 172.2 399.8 169.1 432.8 164.4 468.4 178.8 481.8 185.1 489.7 187.8 493.5 190.2 502.1 192.8 507.5 196.2 515.8 199.6 517.7 201.2 533.7 205.8 540.0 210.2 543.8 211.6 679.8 211.7 683.2 213.1 796.8 213.1 796.8 239.5 766.8 240.0 746.2 239.4 688.8 239.5 682.8 239.8 680.2 240.9 629.2 241.0 615.2 242.0 593.8 241.0 589.8 241.4 581.3 243.2 572.2 243.1 571.1 243.8 575.8 247.8 582.5 250.8 593.2 254.7 604.8 257.2 626.7 259.8 649.8 264.4 668.8 264.8 683.8 266.5 686.2 265.8 689.2 274.3 694.9 285.8 699.2 291.2 708.2 296.6 722.2 298.1 739.8 298.8 771.2 299.1 796.8 300.1 796.8 319.6 739.8 319.1 710.2 317.2 699.2 314.9 696.8 313.2 694.2 310.3 688.5 297.8 686.2 297.0 684.2 294.6 649.8 291.6 615.8 286.9 593.2 278.9 576.2 271.1 569.8 266.1 559.8 257.1 545.1 249.8 521.2 243.8 508.8 241.5 494.2 240.3 349.8 240.3 332.2 241.1 325.2 242.5 322.0 244.2 319.1 248.8 316.0 252.2 309.9 255.8 307.8 259.2 307.6 261.2 305.5 263.2 304.4 265.2 299.9 268.2 300.2 269.2 296.5 275.8 295.9 278.8 292.0 281.8 291.8 283.8 290.3 286.2 290.3 288.8 288.7 292.2 285.3 294.8 284.3 301.2 285.4 303.2 282.8 309.5 274.8 314.3 268.2 316.4 266.6 317.8 265.5 319.8 264.2 320.3ZM437.2 205.8L433.8 204.7 429.9 205.2 430.1 205.8 432.8 206.1 437.2 205.8Z"/>
<path fill="#E88F30" fill-rule="evenodd" d="M264.8 319.0L182.2 319.2 181.8 316.5 100.2 316.5 100.2 300.1 181.8 300.1 182.2 296.4 241.2 296.4 254.8 296.1 258.8 295.5 266.7 290.8 267.7 288.8 269.1 281.8 273.3 278.2 275.9 272.8 277.1 268.2 282.2 264.2 286.9 257.8 287.5 255.8 293.4 252.8 294.1 251.2 297.0 248.2 297.3 246.8 302.9 243.2 301.8 242.1 298.2 241.0 286.2 240.5 248.8 240.1 183.8 240.8 180.2 239.5 126.2 239.0 100.2 239.4 100.2 213.5 180.2 213.5 183.8 212.2 306.8 212.1 312.2 210.1 315.5 206.2 319.2 204.2 324.7 197.8 334.8 189.5 347.2 183.9 358.2 180.0 389.8 172.9 399.8 170.1 432.8 165.4 466.8 179.0 480.2 185.2 488.8 188.4 491.5 190.2 500.2 192.8 505.7 196.2 513.7 199.8 515.9 201.2 533.2 207.0 539.8 210.9 543.2 212.0 679.8 212.1 683.2 213.6 796.8 213.5 796.8 239.1 688.8 239.1 682.8 239.2 679.8 240.3 592.2 240.5 584.2 240.9 577.2 242.0 570.8 241.8 568.7 242.8 569.0 243.8 571.8 246.2 579.8 250.8 593.2 255.9 609.8 259.8 650.2 266.4 683.8 268.5 686.2 266.9 689.2 275.1 693.8 285.0 698.8 292.2 703.8 295.8 709.8 298.8 740.2 300.9 796.8 301.4 796.8 318.5 739.8 318.0 710.2 316.0 699.2 313.7 695.2 309.8 693.4 307.2 688.8 297.2 688.2 296.6 686.2 296.0 684.2 293.4 649.8 290.3 615.8 285.3 593.2 277.0 576.2 268.9 559.8 254.9 546.3 248.2 516.1 241.8 505.2 240.4 495.2 240.0 349.2 240.0 330.8 240.7 323.5 242.2 320.8 243.8 314.7 252.2 308.7 255.8 306.5 260.2 303.2 265.2 298.6 268.2 295.2 275.8 294.8 278.4 290.8 281.8 290.2 284.2 289.2 285.8 289.0 288.8 287.5 292.2 284.1 294.8 283.1 301.2 283.5 303.2 281.1 309.2 273.9 314.2 268.2 316.1 264.8 319.0ZM433.0 209.2L443.3 205.8 441.1 204.2 435.8 203.5 422.8 203.5 412.8 202.8 405.1 203.8 404.3 204.2 407.0 205.8 405.2 206.6 397.8 207.3 387.8 207.1 386.1 207.8 389.2 208.9 392.2 209.3 398.8 208.7 399.5 209.2 404.2 209.6 414.2 208.9 427.2 209.7 433.0 209.2Z"/>
<path fill="#F69E5A" fill-rule="evenodd" d="M264.8 317.9L182.2 318.0 181.8 315.4 100.2 315.4 100.2 301.2 181.8 301.2 182.2 297.2 252.2 297.1 259.2 296.5 267.1 291.2 268.2 289.2 269.8 281.8 274.0 278.2 277.9 268.2 282.9 264.2 287.5 257.8 288.2 255.8 294.0 252.8 297.8 248.2 298.4 246.8 303.1 244.2 304.5 242.8 300.8 240.5 295.8 240.0 183.8 240.0 180.2 238.8 100.2 238.7 100.2 214.0 180.2 214.0 183.8 212.5 307.2 212.4 312.8 210.5 316.8 206.3 319.9 204.2 324.8 198.6 334.8 190.5 349.0 184.2 359.1 180.8 399.2 171.2 432.8 166.4 465.1 179.2 487.0 188.8 489.3 190.2 499.8 193.6 514.2 201.4 533.2 208.2 539.2 211.3 542.8 212.3 679.8 212.5 683.2 214.0 796.8 214.0 796.8 238.7 683.2 238.7 679.8 239.8 582.8 240.1 568.2 240.8 566.9 241.2 566.2 242.8 570.2 246.2 578.1 251.2 593.2 257.1 611.2 261.4 650.2 268.0 683.8 270.0 686.2 268.3 687.2 269.7 689.0 275.2 693.8 286.3 698.8 293.9 709.8 300.1 740.2 302.2 796.8 302.7 796.8 317.3 739.8 316.8 710.2 314.8 699.2 312.5 694.0 306.8 688.8 296.3 686.2 295.1 684.2 292.2 649.8 289.0 615.8 283.6 593.2 275.1 576.2 266.8 560.2 253.0 549.6 247.8 544.8 246.3 519.7 241.2 508.2 240.1 495.8 239.6 348.2 239.6 329.5 240.2 322.7 241.8 319.1 243.2 316.8 246.2 315.3 249.8 313.5 252.2 307.4 255.8 301.6 265.2 298.3 267.2 296.9 268.8 293.2 278.2 289.3 281.8 286.4 291.8 282.8 294.8 281.8 303.8 279.8 308.8 273.9 313.8 268.8 315.5 264.8 317.9ZM402.1 211.2L412.8 209.9 432.8 210.1 447.2 208.0 449.8 206.8 448.8 204.8 446.8 203.8 438.6 202.8 438.0 202.2 438.1 201.2 434.4 200.2 434.4 198.8 432.8 198.2 426.8 198.8 425.9 199.2 428.0 200.2 428.1 200.8 427.2 200.9 423.5 200.8 422.0 200.2 421.7 199.2 418.8 199.2 409.5 201.8 402.0 202.8 399.7 203.8 401.1 205.8 399.2 206.1 383.2 206.1 377.0 206.8 373.4 207.8 374.8 209.2 380.2 211.5 388.2 210.8 394.8 211.5 402.1 211.2Z"/>
<path fill="#FA9E7F" fill-rule="evenodd" d="M264.2 317.3L182.2 317.1 181.8 314.0 100.2 314.0 100.2 302.6 181.8 302.6 182.2 298.0 252.8 298.0 259.8 297.4 267.9 291.2 270.5 281.8 274.7 278.2 278.7 268.2 283.2 264.7 289.0 255.8 294.6 252.8 299.7 246.8 305.9 243.2 306.2 242.2 305.6 241.2 302.2 239.8 296.8 239.5 183.8 239.5 180.2 238.3 100.2 238.2 100.2 214.4 180.2 214.4 183.8 212.9 307.8 212.7 311.7 211.8 313.5 210.8 320.9 204.2 325.2 199.2 335.2 191.4 354.9 183.2 369.6 179.2 399.8 172.3 432.8 167.5 462.5 179.2 486.9 190.2 497.3 193.8 512.6 201.8 533.8 209.4 538.8 211.8 542.8 212.7 679.8 212.9 683.2 214.4 796.8 214.4 796.8 238.3 683.2 238.2 679.8 239.4 576.2 239.6 566.2 240.2 563.9 241.2 564.6 243.2 576.2 251.6 592.8 258.1 610.2 262.5 650.2 269.3 683.8 271.2 686.2 269.5 687.8 271.9 688.8 275.6 693.8 287.6 698.8 295.3 709.8 301.5 740.2 303.6 796.8 304.1 796.8 315.9 739.8 315.4 710.2 313.4 699.2 311.4 694.2 306.0 688.8 295.3 686.2 294.1 684.2 291.0 649.8 287.7 615.8 281.9 593.2 273.1 576.2 264.6 559.8 250.3 553.8 247.2 548.5 245.8 543.7 243.2 535.8 242.9 517.1 240.2 499.2 239.4 345.2 239.3 326.8 240.1 320.2 241.6 316.6 243.2 311.7 252.2 305.9 255.8 299.6 265.2 294.9 268.8 291.2 278.2 287.3 281.8 284.7 291.2 280.8 294.8 279.9 303.2 276.9 310.2 273.0 313.8 264.2 317.3ZM465.0 212.2L466.4 211.8 461.2 211.0 449.8 211.2 445.8 210.8 446.1 210.2 454.8 207.8 456.2 206.8 450.2 203.5 444.2 202.2 442.0 200.2 436.8 197.9 432.8 196.9 415.2 198.2 406.8 200.7 399.2 201.5 396.8 202.4 395.8 203.2 395.2 204.8 393.8 205.1 378.2 205.4 368.0 206.8 361.6 208.8 370.0 210.2 370.2 210.8 360.6 211.2 361.8 211.8 377.2 212.6 465.0 212.2Z"/>
<path fill="#FAA49E" fill-rule="evenodd" d="M265.8 316.3L264.2 316.7 253.8 316.2 182.2 316.2 181.8 312.3 100.2 312.3 100.2 304.3 181.8 304.3 182.2 298.8 253.2 298.8 260.2 298.1 262.0 297.2 264.4 294.2 268.7 291.2 271.3 281.8 275.4 278.2 279.5 268.2 283.8 265.0 289.8 255.8 295.2 252.8 301.0 246.8 308.0 243.2 308.3 242.2 307.0 240.2 303.2 239.3 297.2 239.1 183.8 239.1 180.2 237.9 100.2 237.8 100.2 214.8 180.2 214.8 183.8 213.2 308.2 213.0 312.2 212.1 314.7 210.8 325.2 200.6 335.2 192.7 346.8 187.5 357.8 183.5 399.8 173.5 432.8 168.8 460.2 179.6 484.8 190.4 495.8 194.5 511.0 202.2 526.2 208.1 538.5 212.2 542.2 213.0 679.8 213.2 683.2 214.8 796.8 214.8 796.8 237.9 683.2 237.8 679.8 239.0 575.2 239.2 562.8 240.0 561.3 240.8 561.6 242.2 561.0 242.8 564.4 244.8 565.2 246.2 576.8 253.0 593.2 259.4 615.8 265.1 650.2 270.6 683.8 272.4 686.2 270.6 687.8 272.8 688.8 276.6 693.8 288.8 698.8 296.6 707.8 302.7 709.8 303.5 740.2 305.6 796.8 306.1 796.8 313.9 739.8 313.4 710.2 311.5 707.8 310.7 699.2 310.0 694.2 304.8 688.8 294.2 686.2 293.1 684.2 289.8 649.8 286.4 615.8 280.3 593.2 271.2 576.2 262.4 570.7 257.2 564.8 250.0 562.7 248.2 560.2 246.8 556.9 245.8 554.4 243.2 550.4 242.2 544.2 241.4 536.2 241.6 518.8 239.8 499.8 239.0 342.2 239.0 324.2 239.8 319.7 240.8 313.7 243.2 313.5 246.2 311.0 251.8 305.0 255.8 298.6 265.2 293.9 268.8 290.2 278.2 286.3 281.8 283.7 291.2 279.8 294.8 278.8 303.8 276.1 310.2 272.8 313.2 265.8 316.3ZM468.3 212.8L472.5 211.8 470.2 209.8 468.8 209.2 460.4 208.8 461.8 207.8 465.0 207.8 464.9 207.2 459.8 204.2 451.6 201.8 450.4 200.2 448.5 199.2 432.8 192.9 407.1 196.8 383.9 201.8 375.3 204.2 363.2 206.4 355.5 208.8 353.8 209.8 353.1 211.2 353.1 211.8 354.3 212.2 357.2 212.6 373.8 213.1 468.3 212.8Z"/>
<path fill="#FBB1C3" fill-rule="evenodd" d="M313.8 241.3L311.2 241.4 306.7 239.2 300.2 238.7 183.8 238.7 180.2 237.5 100.2 237.5 100.2 215.1 180.2 215.1 183.8 213.5 308.8 213.3 313.2 212.2 317.5 209.8 325.2 201.7 335.2 193.9 346.8 188.7 357.8 184.7 399.8 174.7 432.8 169.9 459.8 180.5 483.8 191.0 499.8 197.4 509.8 202.8 514.5 204.8 527.8 209.8 541.8 213.3 679.8 213.5 683.2 215.1 796.8 215.1 796.8 237.5 683.2 237.5 679.8 238.7 575.8 238.8 563.8 239.2 557.8 240.2 543.8 240.1 536.2 240.5 498.8 238.7 339.2 238.7 322.8 239.4 313.8 241.3ZM468.8 213.2L474.4 212.8 476.8 211.8 473.8 209.2 463.2 204.2 432.8 191.7 399.8 196.5 358.2 206.5 350.3 209.8 348.7 211.8 350.8 212.6 354.2 213.0 369.8 213.4 468.8 213.2ZM265.8 315.8L264.2 316.1 252.8 315.3 182.2 315.3 181.8 308.2 182.2 299.7 253.8 299.7 258.2 299.5 261.2 298.8 263.2 297.3 265.2 294.4 269.5 291.2 272.1 281.8 276.1 278.2 279.8 268.8 284.4 265.2 290.7 255.8 295.9 252.8 303.2 246.1 307.8 244.5 311.3 244.8 312.0 245.8 311.9 247.8 310.1 251.8 304.1 255.8 297.8 265.2 293.1 268.8 289.4 278.2 285.5 281.8 282.9 291.2 279.0 294.8 278.0 303.2 275.5 309.8 272.6 312.8 265.8 315.8ZM703.8 308.3L699.2 308.3 697.8 307.1 693.8 302.7 688.8 293.0 686.5 292.2 684.2 288.6 649.8 285.1 616.2 278.8 592.3 268.8 581.8 262.2 579.0 259.8 578.6 258.2 580.2 257.7 584.2 258.3 616.2 266.6 649.8 271.8 683.8 273.6 686.2 271.7 687.8 273.8 688.9 278.2 694.2 291.2 699.2 298.8 703.8 302.2 706.5 305.2 706.5 307.2 703.8 308.3Z"/>
<path fill="#FBBBDC" fill-rule="evenodd" d="M536.8 239.8L498.8 238.4 345.2 238.3 325.2 238.7 312.2 240.0 306.8 238.7 300.2 238.4 183.8 238.3 180.2 237.1 100.2 237.1 100.2 215.5 180.2 215.5 183.8 213.9 309.2 213.6 313.3 212.8 318.2 210.3 325.2 202.9 335.2 195.0 346.8 189.8 357.8 185.8 399.8 175.8 432.8 171.0 458.8 181.2 499.8 198.5 509.8 203.9 517.2 207.0 528.8 211.0 541.2 213.6 679.8 213.9 683.2 215.5 796.8 215.5 796.8 237.1 683.2 237.1 679.8 238.3 575.8 238.4 536.8 239.8ZM466.3 213.8L476.2 213.2 478.8 212.8 480.1 211.8 476.6 209.2 464.8 203.8 432.8 190.6 399.8 195.4 357.8 205.6 348.2 209.2 345.3 211.8 346.4 212.8 348.8 213.2 359.8 213.7 466.3 213.8ZM265.8 315.3L264.2 315.5 253.2 314.3 182.2 314.2 181.9 308.2 182.2 300.8 253.8 300.7 261.2 299.9 263.8 298.0 265.9 294.8 270.3 291.2 272.9 281.8 276.9 278.2 280.6 268.8 285.2 265.2 291.5 255.8 296.6 252.8 303.5 246.8 306.8 245.5 309.8 245.8 310.5 246.8 310.6 248.2 309.2 251.8 303.2 255.8 296.9 265.2 292.2 268.8 288.5 278.2 284.6 281.8 282.0 291.2 278.1 294.8 277.2 303.2 274.7 309.8 272.2 312.2 265.8 315.3ZM699.8 305.3L698.8 305.4 694.2 301.6 688.8 291.7 686.8 291.4 684.2 287.4 649.8 283.8 616.2 277.2 599.7 269.8 595.6 267.2 594.1 265.2 595.8 264.4 600.8 264.8 632.8 270.8 650.2 273.2 683.8 274.8 686.2 272.7 687.8 274.9 689.0 279.8 694.1 292.8 700.3 303.2 700.5 304.2 699.8 305.3Z"/>
<path fill="#FFCCFC" fill-rule="evenodd" d="M551.8 238.8L534.2 239.2 497.2 238.0 343.8 238.0 326.2 238.3 312.8 239.1 300.8 238.0 183.8 238.0 180.2 236.7 100.2 236.7 100.2 215.9 180.2 215.9 183.8 214.2 305.2 214.2 310.2 213.8 313.8 213.1 318.2 211.2 324.8 204.5 335.2 196.2 347.2 190.8 357.8 187.0 399.8 177.0 432.8 172.2 455.9 181.2 499.8 199.6 509.8 205.0 515.2 207.3 527.2 211.5 540.2 213.9 679.8 214.2 683.2 215.9 796.8 215.9 796.8 236.7 683.2 236.7 679.8 238.0 575.8 238.1 551.8 238.8ZM476.7 213.8L481.8 213.0 483.2 212.2 483.2 211.8 479.8 209.4 469.9 204.8 452.2 197.1 432.8 189.4 400.2 194.1 370.2 201.3 357.8 204.5 349.2 207.5 344.6 209.8 342.2 212.2 343.8 213.1 346.8 213.6 359.2 214.1 456.8 214.2 476.7 213.8ZM265.2 314.8L257.8 313.3 253.2 313.0 182.2 313.0 182.2 302.0 253.8 302.0 261.2 301.1 263.8 299.5 266.9 294.8 271.2 291.2 273.8 281.8 277.7 278.2 281.4 268.8 286.1 265.2 292.4 255.8 297.4 252.8 303.2 247.7 306.2 246.6 308.2 246.8 309.1 247.8 309.3 249.2 308.0 252.2 302.3 255.8 296.0 265.2 291.3 268.8 287.6 278.2 283.7 281.8 281.1 291.2 277.2 294.8 276.2 303.3 273.7 309.8 271.6 311.8 265.2 314.8ZM693.8 297.5L688.8 289.9 686.8 290.1 684.2 286.1 650.2 282.6 633.8 279.5 616.0 275.2 609.7 271.8 608.1 269.8 609.2 269.2 612.8 269.3 650.2 274.5 683.8 276.0 686.2 273.9 687.8 276.0 688.8 281.0 693.8 295.3 693.8 297.5Z"/>
</g>
<ellipse cx="689.5" cy="344.7" rx="4.5" ry="0.9" fill="#036D53"/>
<ellipse cx="681.5" cy="394.5" rx="2.2" ry="0.6" fill="#036D53"/>
<ellipse cx="539.4" cy="428.2" rx="2.6" ry="0.7" fill="#036D53"/>
<ellipse cx="615.0" cy="471.8" rx="3.6" ry="0.8" fill="#036D53"/>
<line x1="181.55" y1="2.13" x2="181.55" y2="500.5" stroke="#B4C0D8" stroke-width="3.1" stroke-dasharray="3.7 2.473"/>
<line x1="264.80" y1="2.13" x2="264.80" y2="500.5" stroke="#B4C0D8" stroke-width="3.1" stroke-dasharray="3.7 2.473"/>
<line x1="431.30" y1="2.13" x2="431.30" y2="500.5" stroke="#B4C0D8" stroke-width="3.1" stroke-dasharray="3.7 2.473"/>
<line x1="681.05" y1="2.13" x2="681.05" y2="500.5" stroke="#B4C0D8" stroke-width="3.1" stroke-dasharray="3.7 2.473"/>
<path d="M131.60 500.8V496.10 M164.90 500.8V496.10 M198.20 500.8V496.10 M231.50 500.8V496.10 M264.80 500.8V489.80 M298.10 500.8V496.10 M331.40 500.8V496.10 M364.70 500.8V496.10 M398.00 500.8V496.10 M431.30 500.8V489.80 M464.60 500.8V496.10 M497.90 500.8V496.10 M531.20 500.8V496.10 M564.50 500.8V496.10 M597.80 500.8V489.80 M631.10 500.8V496.10 M664.40 500.8V496.10 M697.70 500.8V496.10 M731.00 500.8V496.10 M764.30 500.8V489.80 M100 86.70H110.50 M100 169.80H104.60 M100 252.90H110.50 M100 336.00H104.60 M100 419.10H110.50" stroke="#fff" stroke-width="2" fill="none"/>
<path d="M97.6 2V502.2Q97.6 503.3 98.7 503.3H798.9" stroke="#8196BE" stroke-width="1.3" fill="none"/>
<text transform="translate(119.85,72.08) scale(0.864,1)" font-size="31.60" fill="#fff">FG</text>
<text transform="translate(209.15,72.40) scale(0.823,1)" font-size="31.60" fill="#fff">N</text>
<text transform="translate(227.13,80.00) scale(0.977,1)" font-size="19.80" fill="#fff">2</text>
<text transform="translate(331.90,72.08) scale(0.668,1)" font-size="31.60" fill="#fff">O</text>
<text transform="translate(350.83,80.00) scale(0.977,1)" font-size="19.80" fill="#fff">2</text>
<text transform="translate(541.08,72.40) scale(0.851,1)" font-size="31.60" fill="#fff">N</text>
<text transform="translate(559.42,80.00) scale(0.988,1)" font-size="19.80" fill="#fff">2</text>
<text transform="translate(719.48,72.08) scale(0.852,1)" font-size="31.60" fill="#fff">FG</text>
<text transform="translate(55.84,95.90) scale(0.820,1)" font-size="34.00" fill="#000">48</text>
<text transform="translate(55.84,262.10) scale(0.820,1)" font-size="34.00" fill="#000">46</text>
<text transform="translate(55.42,429.80) scale(0.820,1)" font-size="34.00" fill="#000">44</text>
<text transform="translate(90.53,541.30) scale(0.820,1)" font-size="34.00" fill="#000">0</text>
<text transform="translate(257.96,541.30) scale(0.820,1)" font-size="34.00" fill="#000">5</text>
<text transform="translate(417.05,541.26) scale(0.802,1)" font-size="34.00" fill="#000">10</text>
<text transform="translate(582.71,541.26) scale(0.819,1)" font-size="34.00" fill="#000">15</text>
<text transform="translate(747.57,541.26) scale(0.840,1)" font-size="34.00" fill="#000">20</text>
<text transform="translate(397.88,593.90) scale(0.814,1)" font-size="33.90" fill="#000">Time (h)</text>
<text transform="translate(33.90,286.91) rotate(-90) scale(0.770,1)" font-size="33.90" fill="#000">2</text>
<text transform="translate(33.90,269.23) rotate(-90) scale(1.080,1)" font-size="33.90" font-style="italic" fill="#000">θ</text>
<text transform="translate(33.90,247.34) rotate(-90) scale(0.820,1)" font-size="33.90" fill="#000">(</text>
<text transform="translate(19.6,237.45) rotate(-90) scale(0.75,1)" font-size="20.5" fill="#000">o</text>
<text transform="translate(33.90,226.11) rotate(-90) scale(0.820,1)" font-size="33.90" fill="#000">)</text>
<text transform="translate(-0.51,58.41) scale(0.734,1)" font-size="59.36" font-weight="bold" fill="#000">a</text>
<rect x="810" y="42.0" width="48.7" height="38.7" fill="#FFCCFC"/>
<rect x="810" y="80.7" width="48.7" height="19.3" fill="#F9BEDC"/>
<rect x="810" y="100.0" width="48.7" height="19.0" fill="#F8B4C4"/>
<rect x="810" y="119.0" width="48.7" height="19.0" fill="#F8AAA8"/>
<rect x="810" y="138.0" width="48.7" height="19.3" fill="#F7A387"/>
<rect x="810" y="157.3" width="48.7" height="19.1" fill="#EB9C68"/>
<rect x="810" y="176.4" width="48.7" height="19.1" fill="#D8944C"/>
<rect x="810" y="195.5" width="48.7" height="19.4" fill="#BE8C3A"/>
<rect x="810" y="214.9" width="48.7" height="19.3" fill="#A88A32"/>
<rect x="810" y="234.2" width="48.7" height="19.5" fill="#8E8436"/>
<rect x="810" y="253.7" width="48.7" height="18.8" fill="#737C3E"/>
<rect x="810" y="272.5" width="48.7" height="19.5" fill="#5E7447"/>
<rect x="810" y="292.0" width="48.7" height="19.0" fill="#4C6D50"/>
<rect x="810" y="311.0" width="48.7" height="19.5" fill="#3D6658"/>
<rect x="810" y="330.5" width="48.7" height="19.0" fill="#2F605E"/>
<rect x="810" y="349.5" width="48.7" height="19.3" fill="#245862"/>
<rect x="810" y="368.8" width="48.7" height="19.2" fill="#1B4C62"/>
<rect x="810" y="388.0" width="48.7" height="19.0" fill="#153F60"/>
<rect x="810" y="407.0" width="48.7" height="19.3" fill="#0F2F5C"/>
<rect x="810" y="426.3" width="48.7" height="19.2" fill="#03155A"/>
<rect x="810" y="445.5" width="48.7" height="19.3" fill="#03155A"/>
<path d="M810 80.7H858.7 M810 100.0H858.7 M810 119.0H858.7 M810 138.0H858.7 M810 157.3H858.7 M810 176.4H858.7 M810 195.5H858.7 M810 214.9H858.7 M810 234.2H858.7 M810 253.7H858.7 M810 272.5H858.7 M810 292.0H858.7 M810 311.0H858.7 M810 330.5H858.7 M810 349.5H858.7 M810 368.8H858.7 M810 388.0H858.7 M810 407.0H858.7 M810 426.3H858.7 M810 445.5H858.7" stroke="#ffffff" stroke-opacity="0.12" stroke-width="1"/>
<text transform="translate(815.47,35.69) scale(0.787,1)" font-size="31.10" fill="#000">10</text>
<text transform="translate(843.38,23.99) scale(0.764,1)" font-size="21.48" fill="#000">3</text>
<text transform="translate(815.47,494.69) scale(0.783,1)" font-size="31.24" fill="#000">10</text>
<text transform="translate(844.17,481.80) scale(0.516,1)" font-size="21.53" fill="#000">1</text>
<line x1="1081.20" y1="3.05" x2="1081.20" y2="499.5" stroke="#808080" stroke-width="3.1" stroke-dasharray="3.5 2.58"/>
<line x1="1164.00" y1="3.05" x2="1164.00" y2="499.5" stroke="#808080" stroke-width="3.1" stroke-dasharray="3.5 2.58"/>
<line x1="1330.30" y1="3.05" x2="1330.30" y2="499.5" stroke="#808080" stroke-width="3.1" stroke-dasharray="3.5 2.58"/>
<line x1="1580.80" y1="3.05" x2="1580.80" y2="499.5" stroke="#808080" stroke-width="3.1" stroke-dasharray="3.5 2.58"/>
<path d="M997.50 173.90C998.75 173.80 1002.42 173.57 1005.00 173.30C1007.58 173.03 1011.25 172.25 1013.00 172.30C1014.75 172.35 1014.50 173.25 1015.50 173.60C1016.50 173.95 1017.25 174.22 1019.00 174.40C1020.75 174.58 1022.50 174.92 1026.00 174.70C1029.50 174.48 1034.67 173.77 1040.00 173.10C1045.33 172.43 1051.00 171.57 1058.00 170.70C1065.00 169.83 1073.33 168.83 1082.00 167.90C1090.67 166.97 1100.33 166.03 1110.00 165.10C1119.67 164.17 1131.05 163.07 1140.00 162.30C1148.95 161.53 1159.75 160.80 1163.70 160.50L1163.70 160.50C1163.78 161.25 1164.07 160.08 1164.20 165.00C1164.33 169.92 1164.37 182.50 1164.50 190.00C1164.63 197.50 1164.78 204.67 1165.00 210.00C1165.22 215.33 1165.50 218.17 1165.80 222.00C1166.10 225.83 1165.93 227.67 1166.80 233.00C1167.67 238.33 1169.57 247.08 1171.00 254.00C1172.43 260.92 1173.90 268.58 1175.40 274.50C1176.90 280.42 1177.73 283.48 1180.00 289.50C1182.27 295.52 1185.50 304.32 1189.00 310.60C1192.50 316.88 1196.52 321.97 1201.00 327.20C1205.48 332.43 1211.43 338.28 1215.90 342.00C1220.37 345.72 1222.82 347.22 1227.80 349.50C1232.78 351.78 1238.80 353.92 1245.80 355.70C1252.80 357.48 1261.82 359.05 1269.80 360.20C1277.78 361.35 1286.72 362.00 1293.70 362.60C1300.68 363.20 1306.22 363.60 1311.70 363.80C1317.18 364.00 1323.55 363.93 1326.60 363.80C1329.65 363.67 1329.43 363.13 1330.00 363.00L1330.00 363.00C1331.93 362.02 1336.05 360.07 1341.60 357.10C1347.15 354.13 1354.28 349.88 1363.30 345.20C1372.32 340.52 1384.88 334.58 1395.70 329.00C1406.52 323.42 1417.37 317.12 1428.20 311.70C1439.03 306.28 1449.88 300.72 1460.70 296.50C1471.52 292.28 1482.28 289.03 1493.10 286.40C1503.92 283.77 1514.78 282.00 1525.60 280.70C1536.42 279.40 1548.80 278.85 1558.00 278.60C1567.20 278.35 1577.00 279.10 1580.80 279.20L1580.80 279.20C1580.97 277.93 1581.38 274.30 1581.80 271.60C1582.22 268.90 1582.38 267.10 1583.30 263.00C1584.22 258.90 1585.97 252.75 1587.30 247.00C1588.63 241.25 1589.97 235.58 1591.30 228.50C1592.63 221.42 1593.97 212.05 1595.30 204.50C1596.63 196.95 1597.97 189.40 1599.30 183.20C1600.63 177.00 1601.75 171.50 1603.30 167.30C1604.85 163.10 1606.62 160.53 1608.60 158.00C1610.58 155.47 1612.98 153.30 1615.20 152.10C1617.42 150.90 1619.23 150.72 1621.90 150.80C1624.57 150.88 1626.55 152.25 1631.20 152.60C1635.85 152.95 1642.27 152.77 1649.80 152.90C1657.33 153.03 1668.78 153.32 1676.40 153.40C1684.02 153.48 1692.32 153.40 1695.50 153.40" stroke="#4D4D4D" stroke-width="3.3" fill="none" stroke-linejoin="round" stroke-linecap="round"/>
<path d="M1612.00 154.20C1612.53 153.85 1613.55 152.67 1615.20 152.10C1616.85 151.53 1619.23 150.72 1621.90 150.80C1624.57 150.88 1626.55 152.25 1631.20 152.60C1635.85 152.95 1642.27 152.77 1649.80 152.90C1657.33 153.03 1668.78 153.32 1676.40 153.40C1684.02 153.48 1692.32 153.40 1695.50 153.40" stroke="#4D4D4D" stroke-width="4.2" fill="none" stroke-linecap="round"/>
<path d="M1142.7 162.5V168 M1058 170.5V173.5 M1362 345.5V350 M1430.4 312V315.5 M1245.5 356V358.5" stroke="#4D4D4D" stroke-width="2" fill="none"/>
<rect x="997.5" y="2.8" width="698.8" height="498.9" fill="none" stroke="#000" stroke-width="2"/>
<path d="M1030.80 501V496.40 M1064.10 501V496.40 M1097.40 501V496.40 M1130.70 501V496.40 M1164.00 501V490.00 M1197.30 501V496.40 M1230.60 501V496.40 M1263.90 501V496.40 M1297.20 501V496.40 M1330.50 501V490.00 M1363.80 501V496.40 M1397.10 501V496.40 M1430.40 501V496.40 M1463.70 501V496.40 M1497.00 501V490.00 M1530.30 501V496.40 M1563.60 501V496.40 M1596.90 501V496.40 M1630.20 501V496.40 M1663.50 501V490.00 M998 472.71H1004.5 M998 457.94H1004.5 M998 447.93H1004.5 M998 440.36H1004.5 M998 434.26H1004.5 M998 429.15H1010 M998 400.36H1004.5 M998 385.59H1004.5 M998 375.58H1004.5 M998 368.01H1004.5 M998 361.91H1004.5 M998 356.80H1010 M998 328.01H1004.5 M998 313.24H1004.5 M998 303.23H1004.5 M998 295.66H1004.5 M998 289.56H1004.5 M998 284.45H1010 M998 255.66H1004.5 M998 240.89H1004.5 M998 230.88H1004.5 M998 223.31H1004.5 M998 217.21H1004.5 M998 212.10H1010 M998 183.31H1004.5 M998 168.54H1004.5 M998 158.53H1004.5 M998 150.96H1004.5 M998 144.86H1004.5 M998 139.75H1010 M998 110.96H1004.5 M998 96.19H1004.5 M998 86.18H1004.5 M998 78.61H1004.5 M998 72.51H1004.5 M998 67.40H1010 M998 38.61H1004.5 M998 23.84H1004.5 M998 13.83H1004.5 M998 6.26H1004.5" stroke="#000" stroke-width="2" fill="none"/>
<text transform="translate(1021.34,72.08) scale(0.828,1)" font-size="31.60" fill="#000">FG</text>
<text transform="translate(1107.40,72.40) scale(0.806,1)" font-size="31.60" fill="#000">N</text>
<text transform="translate(1125.32,80.00) scale(0.988,1)" font-size="19.80" fill="#000">2</text>
<text transform="translate(1232.22,72.08) scale(0.654,1)" font-size="31.60" fill="#000">O</text>
<text transform="translate(1249.93,80.00) scale(0.977,1)" font-size="19.80" fill="#000">2</text>
<text transform="translate(1439.84,72.40) scale(0.868,1)" font-size="31.60" fill="#000">N</text>
<text transform="translate(1458.35,80.00) scale(0.955,1)" font-size="19.80" fill="#000">2</text>
<text transform="translate(1621.68,72.08) scale(0.813,1)" font-size="31.60" fill="#000">FG</text>
<text transform="translate(944.75,80.66) scale(0.807,1)" font-size="33.92" fill="#000">10</text>
<text transform="translate(974.44,67.20) scale(0.864,1)" font-size="23.27" fill="#000">7</text>
<text transform="translate(944.75,224.66) scale(0.807,1)" font-size="33.92" fill="#000">10</text>
<text transform="translate(975.26,211.77) scale(0.808,1)" font-size="22.94" fill="#000">5</text>
<text transform="translate(944.75,369.46) scale(0.807,1)" font-size="33.92" fill="#000">10</text>
<text transform="translate(975.32,355.57) scale(0.801,1)" font-size="22.61" fill="#000">3</text>
<text transform="translate(944.75,513.86) scale(0.807,1)" font-size="33.92" fill="#000">10</text>
<text transform="translate(975.85,500.80) scale(0.546,1)" font-size="23.27" fill="#000">1</text>
<text transform="translate(989.93,541.30) scale(0.820,1)" font-size="34.00" fill="#000">0</text>
<text transform="translate(1155.76,541.30) scale(0.820,1)" font-size="34.00" fill="#000">5</text>
<text transform="translate(1315.28,541.26) scale(0.793,1)" font-size="34.00" fill="#000">10</text>
<text transform="translate(1482.27,541.26) scale(0.795,1)" font-size="34.00" fill="#000">15</text>
<text transform="translate(1646.98,541.26) scale(0.834,1)" font-size="34.00" fill="#000">20</text>
<text transform="translate(1296.38,593.70) scale(0.819,1)" font-size="33.90" fill="#000">Time (h)</text>
<text transform="translate(933.00,346.33) rotate(-90) scale(0.831,1)" font-size="33.90" fill="#000">Resistance (Ω)</text>
<text transform="translate(897.68,57.92) scale(0.856,1)" font-size="57.82" font-weight="bold" fill="#000">b</text>
</svg>
</body></html>
